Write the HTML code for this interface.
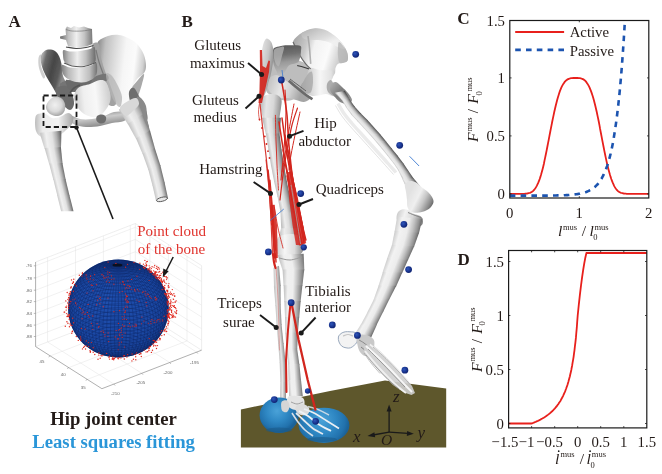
<!DOCTYPE html>
<html><head><meta charset="utf-8"><title>Figure</title>
<style>
html,body{margin:0;padding:0;background:#fff;}
body{width:662px;height:474px;overflow:hidden;font-family:"Liberation Serif",serif;}
svg{display:block;}
text{font-family:"Liberation Serif",serif;fill:#231b18;}
svg{will-change:transform;}
body{-webkit-font-smoothing:antialiased;}
.lb{font-size:15px;}
.tk{font-size:15.3px;}
.b{font-weight:bold;}
.i{font-style:italic;}
</style></head><body>
<svg width="662" height="474" viewBox="0 0 662 474">
<defs>
<filter id="bl1" x="-10%" y="-10%" width="120%" height="120%"><feGaussianBlur stdDeviation="0.7"/></filter>
<filter id="bl2" x="-10%" y="-10%" width="120%" height="120%"><feGaussianBlur stdDeviation="1.4"/></filter>
<filter id="bl3" x="-20%" y="-20%" width="140%" height="140%"><feGaussianBlur stdDeviation="2.5"/></filter>
<linearGradient id="shaftH" x1="0" y1="0" x2="1" y2="0">
<stop offset="0" stop-color="#9a9a9a"/><stop offset="0.25" stop-color="#e4e4e4"/><stop offset="0.6" stop-color="#f4f4f4"/><stop offset="1" stop-color="#8c8c8c"/>
</linearGradient>
<linearGradient id="shaftH2" x1="0" y1="0" x2="1" y2="0">
<stop offset="0" stop-color="#b8b8b8"/><stop offset="0.3" stop-color="#f2f2f2"/><stop offset="0.65" stop-color="#dcdcdc"/><stop offset="1" stop-color="#777"/>
</linearGradient>
<radialGradient id="sph" cx="0.42" cy="0.4" r="0.65">
<stop offset="0" stop-color="#1f50b0"/><stop offset="0.7" stop-color="#1b48a4"/><stop offset="1" stop-color="#163c8c"/>
</radialGradient>
<radialGradient id="mk" cx="0.4" cy="0.35" r="0.7">
<stop offset="0" stop-color="#2a4fb5"/><stop offset="1" stop-color="#14287a"/>
</radialGradient>
<radialGradient id="foot" cx="0.45" cy="0.4" r="0.7">
<stop offset="0" stop-color="#3a9bd6"/><stop offset="0.6" stop-color="#1f7fc0"/><stop offset="1" stop-color="#14649f"/>
</radialGradient>
<linearGradient id="iliumR" x1="0" y1="0" x2="1" y2="0.3">
<stop offset="0" stop-color="#b5b5b5"/><stop offset="0.35" stop-color="#ececec"/><stop offset="0.7" stop-color="#f6f6f6"/><stop offset="1" stop-color="#bdbdbd"/>
</linearGradient>
<linearGradient id="iliumL" x1="0" y1="0" x2="1" y2="0.2">
<stop offset="0" stop-color="#8a8a8a"/><stop offset="0.5" stop-color="#5e5e5e"/><stop offset="1" stop-color="#7c7c7c"/>
</linearGradient>
<linearGradient id="vert" x1="0" y1="0" x2="1" y2="0">
<stop offset="0" stop-color="#a0a0a0"/><stop offset="0.35" stop-color="#eaeaea"/><stop offset="0.7" stop-color="#d4d4d4"/><stop offset="1" stop-color="#8e8e8e"/>
</linearGradient>
<clipPath id="sphclip"><ellipse cx="118.4" cy="308.5" rx="50.3" ry="49"/></clipPath>
<linearGradient id="g1" gradientUnits="userSpaceOnUse" x1="96.0" y1="60.0" x2="147.0" y2="66.0"><stop offset="0" stop-color="#8c8c8c"/><stop offset="0.15" stop-color="#c0c0c0"/><stop offset="0.35" stop-color="#dcdcdc"/><stop offset="0.55" stop-color="#f6f6f6"/><stop offset="0.75" stop-color="#fbfbfb"/><stop offset="0.92" stop-color="#d0d0d0"/><stop offset="1" stop-color="#9c9c9c"/></linearGradient><linearGradient id="g2" gradientUnits="userSpaceOnUse" x1="40.0" y1="66.0" x2="64.0" y2="72.0"><stop offset="0" stop-color="#a8a8a8"/><stop offset="0.15" stop-color="#6a6a6a"/><stop offset="0.5" stop-color="#464646"/><stop offset="0.8" stop-color="#5a5a5a"/><stop offset="1" stop-color="#8a8a8a"/></linearGradient><linearGradient id="g3" gradientUnits="userSpaceOnUse" x1="62.0" y1="38.0" x2="94.0" y2="38.0"><stop offset="0" stop-color="#7c7c7c"/><stop offset="0.2" stop-color="#c2c2c2"/><stop offset="0.45" stop-color="#f0f0f0"/><stop offset="0.7" stop-color="#c4c4c4"/><stop offset="1" stop-color="#6a6a6a"/></linearGradient><linearGradient id="g4" gradientUnits="userSpaceOnUse" x1="62.0" y1="56.0" x2="96.0" y2="56.0"><stop offset="0" stop-color="#7a7a7a"/><stop offset="0.2" stop-color="#bcbcbc"/><stop offset="0.45" stop-color="#eeeeee"/><stop offset="0.7" stop-color="#c0c0c0"/><stop offset="1" stop-color="#686868"/></linearGradient><linearGradient id="g5" gradientUnits="userSpaceOnUse" x1="61.0" y1="72.0" x2="97.0" y2="72.0"><stop offset="0" stop-color="#7a7a7a"/><stop offset="0.2" stop-color="#b8b8b8"/><stop offset="0.5" stop-color="#e8e8e8"/><stop offset="0.8" stop-color="#bdbdbd"/><stop offset="1" stop-color="#747474"/></linearGradient><linearGradient id="g6" gradientUnits="userSpaceOnUse" x1="72.0" y1="100.0" x2="112.0" y2="96.0"><stop offset="0" stop-color="#c2c2c2"/><stop offset="0.3" stop-color="#efefef"/><stop offset="0.6" stop-color="#f8f8f8"/><stop offset="1" stop-color="#c8c8c8"/></linearGradient><linearGradient id="g7" gradientUnits="userSpaceOnUse" x1="90.0" y1="112.0" x2="92.0" y2="128.0"><stop offset="0" stop-color="#8c8c8c"/><stop offset="0.4" stop-color="#cbcbcb"/><stop offset="1" stop-color="#858585"/></linearGradient><radialGradient id="g8" gradientUnits="userSpaceOnUse" cx="55" cy="105" r="11"><stop offset="0" stop-color="#f0f0f0"/><stop offset="0.6" stop-color="#dadada"/><stop offset="1" stop-color="#a8a8a8"/></radialGradient><linearGradient id="g9" gradientUnits="userSpaceOnUse" x1="35.0" y1="124.0" x2="74.0" y2="124.0"><stop offset="0" stop-color="#bdbdbd"/><stop offset="0.2" stop-color="#ececec"/><stop offset="0.6" stop-color="#f2f2f2"/><stop offset="1" stop-color="#a0a0a0"/></linearGradient><linearGradient id="g10" gradientUnits="userSpaceOnUse" x1="42.0" y1="140.7" x2="61.1" y2="137.9"><stop offset="0" stop-color="#cacaca"/><stop offset="0.25" stop-color="#f0f0f0"/><stop offset="0.55" stop-color="#e2e2e2"/><stop offset="0.78" stop-color="#b0b0b0"/><stop offset="1" stop-color="#6e6e6e"/></linearGradient><linearGradient id="g11" gradientUnits="userSpaceOnUse" x1="46.9" y1="156.1" x2="61.4" y2="153.3"><stop offset="0" stop-color="#cacaca"/><stop offset="0.25" stop-color="#f0f0f0"/><stop offset="0.55" stop-color="#e2e2e2"/><stop offset="0.78" stop-color="#b0b0b0"/><stop offset="1" stop-color="#6e6e6e"/></linearGradient><linearGradient id="g12" gradientUnits="userSpaceOnUse" x1="51.3" y1="171.7" x2="63.5" y2="168.9"><stop offset="0" stop-color="#cacaca"/><stop offset="0.25" stop-color="#f0f0f0"/><stop offset="0.55" stop-color="#e2e2e2"/><stop offset="0.78" stop-color="#b0b0b0"/><stop offset="1" stop-color="#6e6e6e"/></linearGradient><linearGradient id="g13" gradientUnits="userSpaceOnUse" x1="55.3" y1="187.4" x2="66.8" y2="184.6"><stop offset="0" stop-color="#cacaca"/><stop offset="0.25" stop-color="#f0f0f0"/><stop offset="0.55" stop-color="#e2e2e2"/><stop offset="0.78" stop-color="#b0b0b0"/><stop offset="1" stop-color="#6e6e6e"/></linearGradient><linearGradient id="g14" gradientUnits="userSpaceOnUse" x1="59.1" y1="203.1" x2="70.7" y2="200.3"><stop offset="0" stop-color="#cacaca"/><stop offset="0.25" stop-color="#f0f0f0"/><stop offset="0.55" stop-color="#e2e2e2"/><stop offset="0.78" stop-color="#b0b0b0"/><stop offset="1" stop-color="#6e6e6e"/></linearGradient><linearGradient id="g15" gradientUnits="userSpaceOnUse" x1="123.4" y1="117.1" x2="142.5" y2="107.4"><stop offset="0" stop-color="#c6c6c6"/><stop offset="0.3" stop-color="#efefef"/><stop offset="0.58" stop-color="#e0e0e0"/><stop offset="0.8" stop-color="#adadad"/><stop offset="1" stop-color="#707070"/></linearGradient><linearGradient id="g16" gradientUnits="userSpaceOnUse" x1="131.9" y1="131.4" x2="148.4" y2="124.4"><stop offset="0" stop-color="#c6c6c6"/><stop offset="0.3" stop-color="#efefef"/><stop offset="0.58" stop-color="#e0e0e0"/><stop offset="0.8" stop-color="#adadad"/><stop offset="1" stop-color="#707070"/></linearGradient><linearGradient id="g17" gradientUnits="userSpaceOnUse" x1="139.3" y1="146.3" x2="153.2" y2="141.5"><stop offset="0" stop-color="#c6c6c6"/><stop offset="0.3" stop-color="#efefef"/><stop offset="0.58" stop-color="#e0e0e0"/><stop offset="0.8" stop-color="#adadad"/><stop offset="1" stop-color="#707070"/></linearGradient><linearGradient id="g18" gradientUnits="userSpaceOnUse" x1="145.5" y1="161.8" x2="157.9" y2="157.6"><stop offset="0" stop-color="#c6c6c6"/><stop offset="0.3" stop-color="#efefef"/><stop offset="0.58" stop-color="#e0e0e0"/><stop offset="0.8" stop-color="#adadad"/><stop offset="1" stop-color="#707070"/></linearGradient><linearGradient id="g19" gradientUnits="userSpaceOnUse" x1="150.4" y1="177.7" x2="162.7" y2="174.6"><stop offset="0" stop-color="#c6c6c6"/><stop offset="0.3" stop-color="#efefef"/><stop offset="0.58" stop-color="#e0e0e0"/><stop offset="0.8" stop-color="#adadad"/><stop offset="1" stop-color="#707070"/></linearGradient><linearGradient id="g20" gradientUnits="userSpaceOnUse" x1="154.3" y1="193.4" x2="166.4" y2="190.7"><stop offset="0" stop-color="#c6c6c6"/><stop offset="0.3" stop-color="#efefef"/><stop offset="0.58" stop-color="#e0e0e0"/><stop offset="0.8" stop-color="#adadad"/><stop offset="1" stop-color="#707070"/></linearGradient><linearGradient id="g21" gradientUnits="userSpaceOnUse" x1="293.0" y1="45.0" x2="348.0" y2="62.0"><stop offset="0" stop-color="#a8a8a8"/><stop offset="0.22" stop-color="#c9c9c9"/><stop offset="0.36" stop-color="#f2f2f2"/><stop offset="0.62" stop-color="#fbfbfb"/><stop offset="0.8" stop-color="#d6d6d6"/><stop offset="1" stop-color="#adadad"/></linearGradient><linearGradient id="g22" gradientUnits="userSpaceOnUse" x1="300.0" y1="84.0" x2="340.0" y2="84.0"><stop offset="0" stop-color="#9a9a9a"/><stop offset="0.25" stop-color="#d4d4d4"/><stop offset="0.5" stop-color="#f6f6f6"/><stop offset="0.78" stop-color="#e2e2e2"/><stop offset="1" stop-color="#a8a8a8"/></linearGradient><linearGradient id="g23" gradientUnits="userSpaceOnUse" x1="315.0" y1="28.0" x2="322.0" y2="46.0"><stop offset="0" stop-color="#bcbcbc"/><stop offset="0.6" stop-color="#d8d8d8"/><stop offset="1" stop-color="#f0f0f0"/></linearGradient><linearGradient id="g24" gradientUnits="userSpaceOnUse" x1="330.0" y1="84.0" x2="350.0" y2="100.0"><stop offset="0" stop-color="#b0b0b0"/><stop offset="0.5" stop-color="#7c7c7c"/><stop offset="1" stop-color="#8e8e8e"/></linearGradient><linearGradient id="g25" gradientUnits="userSpaceOnUse" x1="261.0" y1="58.0" x2="274.0" y2="60.0"><stop offset="0" stop-color="#dedede"/><stop offset="0.5" stop-color="#c6c6c6"/><stop offset="1" stop-color="#8e8e8e"/></linearGradient><linearGradient id="g26" gradientUnits="userSpaceOnUse" x1="280.0" y1="46.0" x2="284.0" y2="76.0"><stop offset="0" stop-color="#5a5a5a"/><stop offset="0.3" stop-color="#707070"/><stop offset="0.55" stop-color="#9a9a9a"/><stop offset="1" stop-color="#c2c2c2"/></linearGradient><linearGradient id="g27" gradientUnits="userSpaceOnUse" x1="268.0" y1="84.0" x2="300.0" y2="96.0"><stop offset="0" stop-color="#c4c4c4"/><stop offset="0.4" stop-color="#e6e6e6"/><stop offset="0.7" stop-color="#cfcfcf"/><stop offset="1" stop-color="#a5a5a5"/></linearGradient><linearGradient id="g28" gradientUnits="userSpaceOnUse" x1="259.0" y1="110.0" x2="282.0" y2="112.0"><stop offset="0" stop-color="#b4b4b4"/><stop offset="0.3" stop-color="#e6e6e6"/><stop offset="0.6" stop-color="#d8d8d8"/><stop offset="1" stop-color="#868686"/></linearGradient><linearGradient id="g29" gradientUnits="userSpaceOnUse" x1="263.9" y1="125.8" x2="280.2" y2="124.6"><stop offset="0" stop-color="#c0c0c0"/><stop offset="0.25" stop-color="#ededed"/><stop offset="0.5" stop-color="#dcdcdc"/><stop offset="0.75" stop-color="#a8a8a8"/><stop offset="1" stop-color="#6a6a6a"/></linearGradient><linearGradient id="g30" gradientUnits="userSpaceOnUse" x1="267.1" y1="141.5" x2="280.2" y2="139.6"><stop offset="0" stop-color="#c0c0c0"/><stop offset="0.25" stop-color="#ededed"/><stop offset="0.5" stop-color="#dcdcdc"/><stop offset="0.75" stop-color="#a8a8a8"/><stop offset="1" stop-color="#6a6a6a"/></linearGradient><linearGradient id="g31" gradientUnits="userSpaceOnUse" x1="269.7" y1="157.4" x2="282.4" y2="155.4"><stop offset="0" stop-color="#c0c0c0"/><stop offset="0.25" stop-color="#ededed"/><stop offset="0.5" stop-color="#dcdcdc"/><stop offset="0.75" stop-color="#a8a8a8"/><stop offset="1" stop-color="#6a6a6a"/></linearGradient><linearGradient id="g32" gradientUnits="userSpaceOnUse" x1="272.5" y1="173.2" x2="284.9" y2="170.9"><stop offset="0" stop-color="#c0c0c0"/><stop offset="0.25" stop-color="#ededed"/><stop offset="0.5" stop-color="#dcdcdc"/><stop offset="0.75" stop-color="#a8a8a8"/><stop offset="1" stop-color="#6a6a6a"/></linearGradient><linearGradient id="g33" gradientUnits="userSpaceOnUse" x1="275.8" y1="188.9" x2="287.9" y2="186.2"><stop offset="0" stop-color="#c0c0c0"/><stop offset="0.25" stop-color="#ededed"/><stop offset="0.5" stop-color="#dcdcdc"/><stop offset="0.75" stop-color="#a8a8a8"/><stop offset="1" stop-color="#6a6a6a"/></linearGradient><linearGradient id="g34" gradientUnits="userSpaceOnUse" x1="279.1" y1="204.6" x2="291.5" y2="201.8"><stop offset="0" stop-color="#c0c0c0"/><stop offset="0.25" stop-color="#ededed"/><stop offset="0.5" stop-color="#dcdcdc"/><stop offset="0.75" stop-color="#a8a8a8"/><stop offset="1" stop-color="#6a6a6a"/></linearGradient><linearGradient id="g35" gradientUnits="userSpaceOnUse" x1="280.8" y1="220.5" x2="295.8" y2="218.4"><stop offset="0" stop-color="#c0c0c0"/><stop offset="0.25" stop-color="#ededed"/><stop offset="0.5" stop-color="#dcdcdc"/><stop offset="0.75" stop-color="#a8a8a8"/><stop offset="1" stop-color="#6a6a6a"/></linearGradient><linearGradient id="g36" gradientUnits="userSpaceOnUse" x1="279.1" y1="236.3" x2="300.3" y2="236.1"><stop offset="0" stop-color="#c0c0c0"/><stop offset="0.25" stop-color="#ededed"/><stop offset="0.5" stop-color="#dcdcdc"/><stop offset="0.75" stop-color="#a8a8a8"/><stop offset="1" stop-color="#6a6a6a"/></linearGradient><linearGradient id="g37" gradientUnits="userSpaceOnUse" x1="275.0" y1="248.0" x2="303.0" y2="248.0"><stop offset="0" stop-color="#c8c8c8"/><stop offset="0.35" stop-color="#f6f6f6"/><stop offset="0.7" stop-color="#dcdcdc"/><stop offset="1" stop-color="#8c8c8c"/></linearGradient><linearGradient id="g38" gradientUnits="userSpaceOnUse" x1="280.0" y1="262.5" x2="303.4" y2="258.3"><stop offset="0" stop-color="#c6c6c6"/><stop offset="0.2" stop-color="#f0f0f0"/><stop offset="0.5" stop-color="#efefef"/><stop offset="0.7" stop-color="#c4c4c4"/><stop offset="0.88" stop-color="#9a9a9a"/><stop offset="1" stop-color="#7a7a7a"/></linearGradient><linearGradient id="g39" gradientUnits="userSpaceOnUse" x1="283.0" y1="277.8" x2="303.3" y2="278.3"><stop offset="0" stop-color="#c6c6c6"/><stop offset="0.2" stop-color="#f0f0f0"/><stop offset="0.5" stop-color="#efefef"/><stop offset="0.7" stop-color="#c4c4c4"/><stop offset="0.88" stop-color="#9a9a9a"/><stop offset="1" stop-color="#7a7a7a"/></linearGradient><linearGradient id="g40" gradientUnits="userSpaceOnUse" x1="284.0" y1="293.6" x2="301.5" y2="294.2"><stop offset="0" stop-color="#c6c6c6"/><stop offset="0.2" stop-color="#f0f0f0"/><stop offset="0.5" stop-color="#efefef"/><stop offset="0.7" stop-color="#c4c4c4"/><stop offset="0.88" stop-color="#9a9a9a"/><stop offset="1" stop-color="#7a7a7a"/></linearGradient><linearGradient id="g41" gradientUnits="userSpaceOnUse" x1="284.7" y1="309.3" x2="299.9" y2="309.7"><stop offset="0" stop-color="#c6c6c6"/><stop offset="0.2" stop-color="#f0f0f0"/><stop offset="0.5" stop-color="#efefef"/><stop offset="0.7" stop-color="#c4c4c4"/><stop offset="0.88" stop-color="#9a9a9a"/><stop offset="1" stop-color="#7a7a7a"/></linearGradient><linearGradient id="g42" gradientUnits="userSpaceOnUse" x1="285.1" y1="325.1" x2="298.5" y2="325.6"><stop offset="0" stop-color="#c6c6c6"/><stop offset="0.2" stop-color="#f0f0f0"/><stop offset="0.5" stop-color="#efefef"/><stop offset="0.7" stop-color="#c4c4c4"/><stop offset="0.88" stop-color="#9a9a9a"/><stop offset="1" stop-color="#7a7a7a"/></linearGradient><linearGradient id="g43" gradientUnits="userSpaceOnUse" x1="285.8" y1="340.9" x2="297.5" y2="340.7"><stop offset="0" stop-color="#c6c6c6"/><stop offset="0.2" stop-color="#f0f0f0"/><stop offset="0.5" stop-color="#efefef"/><stop offset="0.7" stop-color="#c4c4c4"/><stop offset="0.88" stop-color="#9a9a9a"/><stop offset="1" stop-color="#7a7a7a"/></linearGradient><linearGradient id="g44" gradientUnits="userSpaceOnUse" x1="287.3" y1="356.6" x2="298.1" y2="355.2"><stop offset="0" stop-color="#c6c6c6"/><stop offset="0.2" stop-color="#f0f0f0"/><stop offset="0.5" stop-color="#efefef"/><stop offset="0.7" stop-color="#c4c4c4"/><stop offset="0.88" stop-color="#9a9a9a"/><stop offset="1" stop-color="#7a7a7a"/></linearGradient><linearGradient id="g45" gradientUnits="userSpaceOnUse" x1="288.4" y1="372.3" x2="300.2" y2="371.6"><stop offset="0" stop-color="#c6c6c6"/><stop offset="0.2" stop-color="#f0f0f0"/><stop offset="0.5" stop-color="#efefef"/><stop offset="0.7" stop-color="#c4c4c4"/><stop offset="0.88" stop-color="#9a9a9a"/><stop offset="1" stop-color="#7a7a7a"/></linearGradient><linearGradient id="g46" gradientUnits="userSpaceOnUse" x1="288.8" y1="388.1" x2="301.8" y2="387.1"><stop offset="0" stop-color="#c6c6c6"/><stop offset="0.2" stop-color="#f0f0f0"/><stop offset="0.5" stop-color="#efefef"/><stop offset="0.7" stop-color="#c4c4c4"/><stop offset="0.88" stop-color="#9a9a9a"/><stop offset="1" stop-color="#7a7a7a"/></linearGradient><linearGradient id="g47" gradientUnits="userSpaceOnUse" x1="273.7" y1="277.4" x2="279.9" y2="277.1"><stop offset="0" stop-color="#c4c4c4"/><stop offset="0.4" stop-color="#e6e6e6"/><stop offset="1" stop-color="#8e8e8e"/></linearGradient><linearGradient id="g48" gradientUnits="userSpaceOnUse" x1="274.7" y1="296.3" x2="280.7" y2="296.1"><stop offset="0" stop-color="#c4c4c4"/><stop offset="0.4" stop-color="#e6e6e6"/><stop offset="1" stop-color="#8e8e8e"/></linearGradient><linearGradient id="g49" gradientUnits="userSpaceOnUse" x1="276.0" y1="315.1" x2="281.1" y2="314.9"><stop offset="0" stop-color="#c4c4c4"/><stop offset="0.4" stop-color="#e6e6e6"/><stop offset="1" stop-color="#8e8e8e"/></linearGradient><linearGradient id="g50" gradientUnits="userSpaceOnUse" x1="277.4" y1="334.0" x2="282.5" y2="333.5"><stop offset="0" stop-color="#c4c4c4"/><stop offset="0.4" stop-color="#e6e6e6"/><stop offset="1" stop-color="#8e8e8e"/></linearGradient><linearGradient id="g51" gradientUnits="userSpaceOnUse" x1="278.9" y1="352.8" x2="284.5" y2="352.3"><stop offset="0" stop-color="#c4c4c4"/><stop offset="0.4" stop-color="#e6e6e6"/><stop offset="1" stop-color="#8e8e8e"/></linearGradient><linearGradient id="g52" gradientUnits="userSpaceOnUse" x1="280.0" y1="371.7" x2="285.8" y2="371.5"><stop offset="0" stop-color="#c4c4c4"/><stop offset="0.4" stop-color="#e6e6e6"/><stop offset="1" stop-color="#8e8e8e"/></linearGradient><linearGradient id="g53" gradientUnits="userSpaceOnUse" x1="280.2" y1="390.6" x2="286.0" y2="390.6"><stop offset="0" stop-color="#c4c4c4"/><stop offset="0.4" stop-color="#e6e6e6"/><stop offset="1" stop-color="#8e8e8e"/></linearGradient><radialGradient id="g54" gradientUnits="userSpaceOnUse" cx="277" cy="411" r="21"><stop offset="0" stop-color="#4aa2d8"/><stop offset="0.5" stop-color="#2f88c4"/><stop offset="0.85" stop-color="#2272ad"/><stop offset="1" stop-color="#1b6298"/></radialGradient><radialGradient id="g55" gradientUnits="userSpaceOnUse" cx="322" cy="420" r="27"><stop offset="0" stop-color="#4aa2d8"/><stop offset="0.5" stop-color="#2f88c4"/><stop offset="0.85" stop-color="#2272ad"/><stop offset="1" stop-color="#1b6298"/></radialGradient><linearGradient id="g56" gradientUnits="userSpaceOnUse" x1="338.2" y1="96.2" x2="344.5" y2="91.5"><stop offset="0" stop-color="#c8c8c8"/><stop offset="0.15" stop-color="#ececec"/><stop offset="0.4" stop-color="#e2e2e2"/><stop offset="0.65" stop-color="#b8b8b8"/><stop offset="0.85" stop-color="#7e7e7e"/><stop offset="1" stop-color="#4e4e4e"/></linearGradient><linearGradient id="g57" gradientUnits="userSpaceOnUse" x1="343.8" y1="103.3" x2="349.9" y2="99.4"><stop offset="0" stop-color="#c8c8c8"/><stop offset="0.15" stop-color="#ececec"/><stop offset="0.4" stop-color="#e2e2e2"/><stop offset="0.65" stop-color="#b8b8b8"/><stop offset="0.85" stop-color="#7e7e7e"/><stop offset="1" stop-color="#4e4e4e"/></linearGradient><linearGradient id="g58" gradientUnits="userSpaceOnUse" x1="348.7" y1="110.9" x2="354.6" y2="106.1"><stop offset="0" stop-color="#c8c8c8"/><stop offset="0.15" stop-color="#ececec"/><stop offset="0.4" stop-color="#e2e2e2"/><stop offset="0.65" stop-color="#b8b8b8"/><stop offset="0.85" stop-color="#7e7e7e"/><stop offset="1" stop-color="#4e4e4e"/></linearGradient><linearGradient id="g59" gradientUnits="userSpaceOnUse" x1="354.5" y1="118.0" x2="360.1" y2="112.5"><stop offset="0" stop-color="#c8c8c8"/><stop offset="0.15" stop-color="#ececec"/><stop offset="0.4" stop-color="#e2e2e2"/><stop offset="0.65" stop-color="#b8b8b8"/><stop offset="0.85" stop-color="#7e7e7e"/><stop offset="1" stop-color="#4e4e4e"/></linearGradient><linearGradient id="g60" gradientUnits="userSpaceOnUse" x1="360.6" y1="124.7" x2="366.7" y2="119.2"><stop offset="0" stop-color="#c8c8c8"/><stop offset="0.15" stop-color="#ececec"/><stop offset="0.4" stop-color="#e2e2e2"/><stop offset="0.65" stop-color="#b8b8b8"/><stop offset="0.85" stop-color="#7e7e7e"/><stop offset="1" stop-color="#4e4e4e"/></linearGradient><linearGradient id="g61" gradientUnits="userSpaceOnUse" x1="366.8" y1="131.5" x2="372.8" y2="126.0"><stop offset="0" stop-color="#c8c8c8"/><stop offset="0.15" stop-color="#ececec"/><stop offset="0.4" stop-color="#e2e2e2"/><stop offset="0.65" stop-color="#b8b8b8"/><stop offset="0.85" stop-color="#7e7e7e"/><stop offset="1" stop-color="#4e4e4e"/></linearGradient><linearGradient id="g62" gradientUnits="userSpaceOnUse" x1="372.9" y1="138.2" x2="379.1" y2="133.0"><stop offset="0" stop-color="#c8c8c8"/><stop offset="0.15" stop-color="#ececec"/><stop offset="0.4" stop-color="#e2e2e2"/><stop offset="0.65" stop-color="#b8b8b8"/><stop offset="0.85" stop-color="#7e7e7e"/><stop offset="1" stop-color="#4e4e4e"/></linearGradient><linearGradient id="g63" gradientUnits="userSpaceOnUse" x1="378.9" y1="145.1" x2="385.0" y2="140.1"><stop offset="0" stop-color="#c8c8c8"/><stop offset="0.15" stop-color="#ececec"/><stop offset="0.4" stop-color="#e2e2e2"/><stop offset="0.65" stop-color="#b8b8b8"/><stop offset="0.85" stop-color="#7e7e7e"/><stop offset="1" stop-color="#4e4e4e"/></linearGradient><linearGradient id="g64" gradientUnits="userSpaceOnUse" x1="384.7" y1="152.2" x2="390.8" y2="147.3"><stop offset="0" stop-color="#c8c8c8"/><stop offset="0.15" stop-color="#ececec"/><stop offset="0.4" stop-color="#e2e2e2"/><stop offset="0.65" stop-color="#b8b8b8"/><stop offset="0.85" stop-color="#7e7e7e"/><stop offset="1" stop-color="#4e4e4e"/></linearGradient><linearGradient id="g65" gradientUnits="userSpaceOnUse" x1="390.3" y1="159.3" x2="396.6" y2="154.5"><stop offset="0" stop-color="#c8c8c8"/><stop offset="0.15" stop-color="#ececec"/><stop offset="0.4" stop-color="#e2e2e2"/><stop offset="0.65" stop-color="#b8b8b8"/><stop offset="0.85" stop-color="#7e7e7e"/><stop offset="1" stop-color="#4e4e4e"/></linearGradient><linearGradient id="g66" gradientUnits="userSpaceOnUse" x1="395.8" y1="166.7" x2="402.5" y2="162.1"><stop offset="0" stop-color="#c8c8c8"/><stop offset="0.15" stop-color="#ececec"/><stop offset="0.4" stop-color="#e2e2e2"/><stop offset="0.65" stop-color="#b8b8b8"/><stop offset="0.85" stop-color="#7e7e7e"/><stop offset="1" stop-color="#4e4e4e"/></linearGradient><linearGradient id="g67" gradientUnits="userSpaceOnUse" x1="400.3" y1="174.6" x2="408.4" y2="169.9"><stop offset="0" stop-color="#c8c8c8"/><stop offset="0.15" stop-color="#ececec"/><stop offset="0.4" stop-color="#e2e2e2"/><stop offset="0.65" stop-color="#b8b8b8"/><stop offset="0.85" stop-color="#7e7e7e"/><stop offset="1" stop-color="#4e4e4e"/></linearGradient><linearGradient id="g68" gradientUnits="userSpaceOnUse" x1="404.1" y1="182.8" x2="413.5" y2="176.9"><stop offset="0" stop-color="#c8c8c8"/><stop offset="0.15" stop-color="#ececec"/><stop offset="0.4" stop-color="#e2e2e2"/><stop offset="0.65" stop-color="#b8b8b8"/><stop offset="0.85" stop-color="#7e7e7e"/><stop offset="1" stop-color="#4e4e4e"/></linearGradient><linearGradient id="g69" gradientUnits="userSpaceOnUse" x1="408.0" y1="196.0" x2="432.0" y2="208.0"><stop offset="0" stop-color="#e2e2e2"/><stop offset="0.35" stop-color="#efefef"/><stop offset="0.6" stop-color="#c6c6c6"/><stop offset="0.85" stop-color="#8a8a8a"/><stop offset="1" stop-color="#606060"/></linearGradient><linearGradient id="g70" gradientUnits="userSpaceOnUse" x1="396.0" y1="214.0" x2="423.0" y2="222.0"><stop offset="0" stop-color="#c8c8c8"/><stop offset="0.3" stop-color="#f2f2f2"/><stop offset="0.6" stop-color="#d8d8d8"/><stop offset="1" stop-color="#7e7e7e"/></linearGradient><linearGradient id="g71" gradientUnits="userSpaceOnUse" x1="395.8" y1="224.0" x2="420.0" y2="229.0"><stop offset="0" stop-color="#d0d0d0"/><stop offset="0.2" stop-color="#f2f2f2"/><stop offset="0.5" stop-color="#ececec"/><stop offset="0.72" stop-color="#c0c0c0"/><stop offset="0.9" stop-color="#929292"/><stop offset="1" stop-color="#6e6e6e"/></linearGradient><linearGradient id="g72" gradientUnits="userSpaceOnUse" x1="393.3" y1="238.1" x2="415.3" y2="244.2"><stop offset="0" stop-color="#d0d0d0"/><stop offset="0.2" stop-color="#f2f2f2"/><stop offset="0.5" stop-color="#ececec"/><stop offset="0.72" stop-color="#c0c0c0"/><stop offset="0.9" stop-color="#929292"/><stop offset="1" stop-color="#6e6e6e"/></linearGradient><linearGradient id="g73" gradientUnits="userSpaceOnUse" x1="389.5" y1="251.9" x2="408.5" y2="259.6"><stop offset="0" stop-color="#d0d0d0"/><stop offset="0.2" stop-color="#f2f2f2"/><stop offset="0.5" stop-color="#ececec"/><stop offset="0.72" stop-color="#c0c0c0"/><stop offset="0.9" stop-color="#929292"/><stop offset="1" stop-color="#6e6e6e"/></linearGradient><linearGradient id="g74" gradientUnits="userSpaceOnUse" x1="384.8" y1="265.4" x2="402.9" y2="272.3"><stop offset="0" stop-color="#d0d0d0"/><stop offset="0.2" stop-color="#f2f2f2"/><stop offset="0.5" stop-color="#ececec"/><stop offset="0.72" stop-color="#c0c0c0"/><stop offset="0.9" stop-color="#929292"/><stop offset="1" stop-color="#6e6e6e"/></linearGradient><linearGradient id="g75" gradientUnits="userSpaceOnUse" x1="380.6" y1="279.1" x2="397.0" y2="285.3"><stop offset="0" stop-color="#d0d0d0"/><stop offset="0.2" stop-color="#f2f2f2"/><stop offset="0.5" stop-color="#ececec"/><stop offset="0.72" stop-color="#c0c0c0"/><stop offset="0.9" stop-color="#929292"/><stop offset="1" stop-color="#6e6e6e"/></linearGradient><linearGradient id="g76" gradientUnits="userSpaceOnUse" x1="376.1" y1="292.7" x2="390.1" y2="298.8"><stop offset="0" stop-color="#d0d0d0"/><stop offset="0.2" stop-color="#f2f2f2"/><stop offset="0.5" stop-color="#ececec"/><stop offset="0.72" stop-color="#c0c0c0"/><stop offset="0.9" stop-color="#929292"/><stop offset="1" stop-color="#6e6e6e"/></linearGradient><linearGradient id="g77" gradientUnits="userSpaceOnUse" x1="370.6" y1="305.9" x2="383.1" y2="312.1"><stop offset="0" stop-color="#d0d0d0"/><stop offset="0.2" stop-color="#f2f2f2"/><stop offset="0.5" stop-color="#ececec"/><stop offset="0.72" stop-color="#c0c0c0"/><stop offset="0.9" stop-color="#929292"/><stop offset="1" stop-color="#6e6e6e"/></linearGradient><linearGradient id="g78" gradientUnits="userSpaceOnUse" x1="364.0" y1="318.6" x2="376.5" y2="325.1"><stop offset="0" stop-color="#d0d0d0"/><stop offset="0.2" stop-color="#f2f2f2"/><stop offset="0.5" stop-color="#ececec"/><stop offset="0.72" stop-color="#c0c0c0"/><stop offset="0.9" stop-color="#929292"/><stop offset="1" stop-color="#6e6e6e"/></linearGradient><linearGradient id="g79" gradientUnits="userSpaceOnUse" x1="356.8" y1="331.0" x2="370.3" y2="338.1"><stop offset="0" stop-color="#d0d0d0"/><stop offset="0.2" stop-color="#f2f2f2"/><stop offset="0.5" stop-color="#ececec"/><stop offset="0.72" stop-color="#c0c0c0"/><stop offset="0.9" stop-color="#929292"/><stop offset="1" stop-color="#6e6e6e"/></linearGradient><radialGradient id="g80" gradientUnits="userSpaceOnUse" cx="280.5" cy="79.2" r="3.74"><stop offset="0" stop-color="#2f55b8"/><stop offset="0.6" stop-color="#1c3a98"/><stop offset="1" stop-color="#132878"/></radialGradient><radialGradient id="g81" gradientUnits="userSpaceOnUse" cx="354.9" cy="53.5" r="3.74"><stop offset="0" stop-color="#2f55b8"/><stop offset="0.6" stop-color="#1c3a98"/><stop offset="1" stop-color="#132878"/></radialGradient><radialGradient id="g82" gradientUnits="userSpaceOnUse" cx="398.9" cy="144.5" r="3.74"><stop offset="0" stop-color="#2f55b8"/><stop offset="0.6" stop-color="#1c3a98"/><stop offset="1" stop-color="#132878"/></radialGradient><radialGradient id="g83" gradientUnits="userSpaceOnUse" cx="299.9" cy="192.79999999999998" r="3.74"><stop offset="0" stop-color="#2f55b8"/><stop offset="0.6" stop-color="#1c3a98"/><stop offset="1" stop-color="#132878"/></radialGradient><radialGradient id="g84" gradientUnits="userSpaceOnUse" cx="267.59999999999997" cy="251.1" r="3.74"><stop offset="0" stop-color="#2f55b8"/><stop offset="0.6" stop-color="#1c3a98"/><stop offset="1" stop-color="#132878"/></radialGradient><radialGradient id="g85" gradientUnits="userSpaceOnUse" cx="403.09999999999997" cy="223.5" r="3.74"><stop offset="0" stop-color="#2f55b8"/><stop offset="0.6" stop-color="#1c3a98"/><stop offset="1" stop-color="#132878"/></radialGradient><radialGradient id="g86" gradientUnits="userSpaceOnUse" cx="407.8" cy="268.8" r="3.74"><stop offset="0" stop-color="#2f55b8"/><stop offset="0.6" stop-color="#1c3a98"/><stop offset="1" stop-color="#132878"/></radialGradient><radialGradient id="g87" gradientUnits="userSpaceOnUse" cx="290.4" cy="301.9" r="3.74"><stop offset="0" stop-color="#2f55b8"/><stop offset="0.6" stop-color="#1c3a98"/><stop offset="1" stop-color="#132878"/></radialGradient><radialGradient id="g88" gradientUnits="userSpaceOnUse" cx="331.5" cy="324.09999999999997" r="3.74"><stop offset="0" stop-color="#2f55b8"/><stop offset="0.6" stop-color="#1c3a98"/><stop offset="1" stop-color="#132878"/></radialGradient><radialGradient id="g89" gradientUnits="userSpaceOnUse" cx="356.59999999999997" cy="334.59999999999997" r="3.74"><stop offset="0" stop-color="#2f55b8"/><stop offset="0.6" stop-color="#1c3a98"/><stop offset="1" stop-color="#132878"/></radialGradient><radialGradient id="g90" gradientUnits="userSpaceOnUse" cx="404.09999999999997" cy="369.4" r="3.74"><stop offset="0" stop-color="#2f55b8"/><stop offset="0.6" stop-color="#1c3a98"/><stop offset="1" stop-color="#132878"/></radialGradient><radialGradient id="g91" gradientUnits="userSpaceOnUse" cx="273.5" cy="398.8" r="3.74"><stop offset="0" stop-color="#2f55b8"/><stop offset="0.6" stop-color="#1c3a98"/><stop offset="1" stop-color="#132878"/></radialGradient><radialGradient id="g92" gradientUnits="userSpaceOnUse" cx="314.8" cy="420.5" r="3.74"><stop offset="0" stop-color="#2f55b8"/><stop offset="0.6" stop-color="#1c3a98"/><stop offset="1" stop-color="#132878"/></radialGradient><radialGradient id="g93" gradientUnits="userSpaceOnUse" cx="303.0" cy="246.5" r="3.4100000000000006"><stop offset="0" stop-color="#2f55b8"/><stop offset="0.6" stop-color="#1c3a98"/><stop offset="1" stop-color="#132878"/></radialGradient><radialGradient id="g94" gradientUnits="userSpaceOnUse" cx="306.9" cy="390.2" r="3.08"><stop offset="0" stop-color="#2f55b8"/><stop offset="0.6" stop-color="#1c3a98"/><stop offset="1" stop-color="#132878"/></radialGradient>
</defs>
<rect width="662" height="474" fill="#ffffff"/>
<!-- PANEL A -->
<g id="panelA">
<text class="b" x="8.4" y="27" font-size="17">A</text>
<!-- bones -->
<g filter="url(#bl1)">
<path d="M98.5,41.0 C100.3,39.0 104.6,37.0 108.0,36.0 C111.4,35.0 115.3,34.5 119.0,35.0 C122.7,35.5 126.8,37.3 130.0,39.0 C133.2,40.7 135.7,42.3 138.0,45.0 C140.3,47.7 142.7,51.5 144.0,55.0 C145.3,58.5 146.0,63.0 146.0,66.0 C146.0,69.0 145.3,71.0 144.0,73.0 C142.7,75.0 139.7,76.2 138.0,78.0 C136.3,79.8 135.2,81.7 134.0,84.0 C132.8,86.3 131.2,89.3 131.0,92.0 C130.8,94.7 133.5,97.3 133.0,100.0 C132.5,102.7 130.5,107.3 128.0,108.0 C125.5,108.7 120.5,106.3 118.0,104.0 C115.5,101.7 114.7,97.7 113.0,94.0 C111.3,90.3 110.2,85.7 108.0,82.0 C105.8,78.3 101.9,75.7 100.0,72.0 C98.1,68.3 97.0,64.0 96.5,60.0 C96.0,56.0 96.7,51.2 97.0,48.0 C97.3,44.8 96.7,43.0 98.5,41.0Z" fill="url(#g1)" />
<path d="M131.0,90.0 C131.7,86.7 135.8,82.7 138.0,80.0 C140.2,77.3 143.3,73.3 144.0,74.0 C144.7,74.7 143.0,80.3 142.0,84.0 C141.0,87.7 139.3,93.3 138.0,96.0 C136.7,98.7 135.2,101.0 134.0,100.0 C132.8,99.0 130.3,93.3 131.0,90.0Z" fill="#a9a9a9" />
<path d="M41.0,56.0 C41.5,53.7 43.1,52.1 44.5,51.0 C45.9,49.9 47.8,49.5 49.5,49.5 C51.2,49.5 53.4,49.9 55.0,51.0 C56.6,52.1 57.9,53.8 59.0,56.0 C60.1,58.2 60.8,60.7 61.5,64.0 C62.2,67.3 62.1,72.7 63.0,76.0 C63.9,79.3 65.8,81.3 67.0,84.0 C68.2,86.7 70.2,89.7 70.0,92.0 C69.8,94.3 68.0,97.5 66.0,98.0 C64.0,98.5 60.3,97.0 58.0,95.0 C55.7,93.0 54.0,89.2 52.0,86.0 C50.0,82.8 47.8,79.5 46.0,76.0 C44.2,72.5 42.3,68.3 41.5,65.0 C40.7,61.7 40.5,58.3 41.0,56.0Z" fill="url(#g2)" />
<path d="M38.5,58.0 C38.8,55.8 40.6,53.7 41.0,55.0 C41.4,56.3 40.3,62.5 41.0,66.0 C41.7,69.5 44.7,74.0 45.0,76.0 C45.3,78.0 44.0,79.3 43.0,78.0 C42.0,76.7 39.8,71.3 39.0,68.0 C38.2,64.7 38.2,60.2 38.5,58.0Z" fill="#cfcfcf" />
<path d="M92.0,46.0 C92.8,41.7 97.5,42.0 99.0,44.0 C100.5,46.0 99.8,53.0 101.0,58.0 C102.2,63.0 104.2,68.7 106.0,74.0 C107.8,79.3 110.3,85.0 112.0,90.0 C113.7,95.0 116.7,101.7 116.0,104.0 C115.3,106.3 110.7,107.3 108.0,104.0 C105.3,100.7 102.3,89.7 100.0,84.0 C97.7,78.3 95.3,76.3 94.0,70.0 C92.7,63.7 91.2,50.3 92.0,46.0Z" fill="#a2a2a2" />
<path d="M96.0,50.0 C96.5,52.0 97.7,57.7 99.0,62.0 C100.3,66.3 103.2,73.7 104.0,76.0" fill="none" stroke="#7a7a7a" stroke-width="1.2" />
<path d="M60.0,84.0 C61.0,82.0 66.0,80.7 70.0,80.0 C74.0,79.3 79.7,80.7 84.0,80.0 C88.3,79.3 92.3,77.0 96.0,76.0 C99.7,75.0 104.0,73.3 106.0,74.0 C108.0,74.7 109.7,78.3 108.0,80.0 C106.3,81.7 100.0,82.7 96.0,84.0 C92.0,85.3 88.0,86.7 84.0,88.0 C80.0,89.3 75.3,91.3 72.0,92.0 C68.7,92.7 66.0,93.3 64.0,92.0 C62.0,90.7 59.0,86.0 60.0,84.0Z" fill="#747474" />
<path d="M56.0,88.0 C57.5,86.3 63.3,85.0 66.0,86.0 C68.7,87.0 70.7,91.0 72.0,94.0 C73.3,97.0 74.3,101.3 74.0,104.0 C73.7,106.7 72.0,110.0 70.0,110.0 C68.0,110.0 64.2,106.3 62.0,104.0 C59.8,101.7 58.0,98.7 57.0,96.0 C56.0,93.3 54.5,89.7 56.0,88.0Z" fill="#6c6c6c" />
<path d="M129.0,92.0 C129.5,89.3 132.2,87.0 134.0,88.0 C135.8,89.0 138.0,94.3 140.0,98.0 C142.0,101.7 144.8,106.3 146.0,110.0 C147.2,113.7 148.3,119.0 147.0,120.0 C145.7,121.0 140.7,118.7 138.0,116.0 C135.3,113.3 132.5,108.0 131.0,104.0 C129.5,100.0 128.5,94.7 129.0,92.0Z" fill="#6e6e6e" />
<path d="M65.5,29.0 L67.0,26.5 L71.0,28.0 L74.0,26.0 L79.0,27.5 L84.0,26.5 L88.0,28.0 L92.0,29.0 L92.5,44.0 L86.0,46.5 L76.0,47.5 L68.0,46.0 L66.0,40.0 L60.0,38.5 L60.0,36.5 L66.0,35.0Z" fill="url(#g3)" />
<path d="M66.0,29.5 C67.0,29.8 69.3,30.8 72.0,31.0 C74.7,31.2 78.7,31.2 82.0,31.0 C85.3,30.8 90.3,29.8 92.0,29.5" fill="none" stroke="#777" stroke-width="0.7" />
<path d="M63.5,50.0 C64.7,49.4 67.2,51.3 70.0,51.5 C72.8,51.7 76.7,51.4 80.0,51.0 C83.3,50.6 87.6,49.7 90.0,49.0 C92.4,48.3 93.6,46.0 94.5,47.0 C95.4,48.0 95.4,52.5 95.5,55.0 C95.6,57.5 96.2,60.3 95.0,62.0 C93.8,63.7 90.8,64.3 88.0,65.0 C85.2,65.7 81.3,66.1 78.0,66.0 C74.7,65.9 70.3,65.3 68.0,64.5 C65.7,63.7 64.8,62.6 64.0,61.0 C63.2,59.4 63.1,56.8 63.0,55.0 C62.9,53.2 62.3,50.6 63.5,50.0Z" fill="url(#g4)" />
<path d="M62.0,65.0 C63.2,63.9 66.7,67.1 70.0,67.5 C73.3,67.9 78.3,67.9 82.0,67.5 C85.7,67.1 89.6,65.8 92.0,65.0 C94.4,64.2 95.7,61.8 96.5,63.0 C97.3,64.2 97.4,69.5 97.0,72.0 C96.6,74.5 95.8,76.3 94.0,78.0 C92.2,79.7 89.0,81.3 86.0,82.0 C83.0,82.7 79.0,82.5 76.0,82.0 C73.0,81.5 70.2,80.3 68.0,79.0 C65.8,77.7 64.0,76.3 63.0,74.0 C62.0,71.7 60.8,66.1 62.0,65.0Z" fill="url(#g5)" />
<path d="M66.0,47.0 C67.7,47.2 72.7,48.4 76.0,48.5 C79.3,48.6 83.1,48.0 86.0,47.5 C88.9,47.0 92.2,45.8 93.5,45.5" fill="none" stroke="#4a4a4a" stroke-width="1.2" />
<path d="M64.0,63.0 C65.3,63.5 68.7,65.4 72.0,66.0 C75.3,66.6 80.0,67.1 84.0,66.5 C88.0,65.9 94.0,63.2 96.0,62.5" fill="none" stroke="#5a5a5a" stroke-width="1.1" />
<path d="M66.0,80.0 C67.0,79.0 71.0,81.5 74.0,82.0 C77.0,82.5 81.0,83.3 84.0,83.0 C87.0,82.7 91.7,79.2 92.0,80.0 C92.3,80.8 89.0,86.0 86.0,88.0 C83.0,90.0 77.0,92.0 74.0,92.0 C71.0,92.0 69.3,90.0 68.0,88.0 C66.7,86.0 65.0,81.0 66.0,80.0Z" fill="#6a6a6a" />
<path d="M78.0,88.0 C80.7,85.7 86.3,85.3 90.0,84.0 C93.7,82.7 97.3,80.3 100.0,80.0 C102.7,79.7 104.3,80.0 106.0,82.0 C107.7,84.0 109.3,88.7 110.0,92.0 C110.7,95.3 111.0,98.7 110.0,102.0 C109.0,105.3 106.3,109.5 104.0,112.0 C101.7,114.5 99.0,116.5 96.0,117.0 C93.0,117.5 89.0,116.5 86.0,115.0 C83.0,113.5 80.0,110.8 78.0,108.0 C76.0,105.2 74.0,101.3 74.0,98.0 C74.0,94.7 75.3,90.3 78.0,88.0Z" fill="url(#g6)" />
<path d="M70.0,93.0 C70.7,92.2 72.3,89.3 74.0,88.0 C75.7,86.7 79.0,85.5 80.0,85.0" fill="none" stroke="#555" stroke-width="1.6" />
<path d="M72.0,116.0 C73.7,115.7 76.7,118.5 80.0,119.0 C83.3,119.5 88.0,119.5 92.0,119.0 C96.0,118.5 100.3,117.2 104.0,116.0 C107.7,114.8 110.7,112.7 114.0,112.0 C117.3,111.3 121.7,111.3 124.0,112.0 C126.3,112.7 128.0,114.5 128.0,116.0 C128.0,117.5 126.7,119.8 124.0,121.0 C121.3,122.2 116.0,122.2 112.0,123.0 C108.0,123.8 104.3,125.3 100.0,126.0 C95.7,126.7 90.0,127.2 86.0,127.0 C82.0,126.8 78.7,126.0 76.0,125.0 C73.3,124.0 70.7,122.5 70.0,121.0 C69.3,119.5 70.3,116.3 72.0,116.0Z" fill="url(#g7)" />
<path d="M97.0,116.0 C97.9,115.0 100.5,114.3 102.0,114.5 C103.5,114.7 105.5,115.8 106.0,117.0 C106.5,118.2 106.0,120.9 105.0,122.0 C104.0,123.1 101.4,123.8 100.0,123.5 C98.6,123.2 97.0,121.8 96.5,120.5 C96.0,119.2 96.1,117.0 97.0,116.0Z" fill="#6e6e6e" />
<path d="M106.0,74.0 C106.5,71.8 110.0,74.0 112.0,76.0 C114.0,78.0 116.3,82.5 118.0,86.0 C119.7,89.5 121.7,93.5 122.0,97.0 C122.3,100.5 121.3,106.3 120.0,107.0 C118.7,107.7 115.8,104.0 114.0,101.0 C112.2,98.0 110.3,93.5 109.0,89.0 C107.7,84.5 105.5,76.2 106.0,74.0Z" fill="#b4b4b4" opacity="0.75"/>
<path d="M48.0,102.0 C49.3,100.2 51.8,97.7 54.0,97.0 C56.2,96.3 59.2,96.8 61.0,98.0 C62.8,99.2 64.5,101.7 65.0,104.0 C65.5,106.3 65.2,110.0 64.0,112.0 C62.8,114.0 60.3,115.7 58.0,116.0 C55.7,116.3 52.0,115.3 50.0,114.0 C48.0,112.7 46.3,110.0 46.0,108.0 C45.7,106.0 46.7,103.8 48.0,102.0Z" fill="url(#g8)" />
<path d="M35.5,117.0 C36.2,114.1 38.2,114.0 40.0,113.5 C41.8,113.0 44.0,113.2 46.0,114.0 C48.0,114.8 49.7,117.5 52.0,118.0 C54.3,118.5 57.3,117.8 60.0,117.0 C62.7,116.2 65.8,113.0 68.0,113.0 C70.2,113.0 72.3,115.2 73.0,117.0 C73.7,118.8 73.2,121.8 72.0,124.0 C70.8,126.2 67.8,128.3 66.0,130.0 C64.2,131.7 63.3,133.0 61.0,134.0 C58.7,135.0 55.2,135.5 52.0,136.0 C48.8,136.5 44.7,137.8 42.0,137.0 C39.3,136.2 37.1,134.3 36.0,131.0 C34.9,127.7 34.8,119.9 35.5,117.0Z" fill="url(#g9)" />
<path d="M39.5,132.7 L44.6,148.7 L61.0,147.6 L61.5,130.7Z" fill="url(#g10)" /><path d="M44.5,148.0 L49.2,164.2 L62.6,163.8 L60.9,146.9Z" fill="url(#g11)" /><path d="M49.1,163.6 L53.4,179.9 L65.7,179.8 L62.4,163.1Z" fill="url(#g12)" /><path d="M53.3,179.2 L57.3,195.6 L69.5,195.6 L65.5,179.1Z" fill="url(#g13)" /><path d="M57.1,194.9 L61.1,211.3 L73.5,211.3 L69.4,194.9Z" fill="url(#g14)" />
<path d="M118.8,109.7 L128.0,124.5 L145.0,114.0 L137.8,96.7Z" fill="url(#g15)" /><path d="M127.7,123.8 L136.1,139.0 L150.2,131.2 L144.7,113.3Z" fill="url(#g16)" /><path d="M135.9,138.3 L142.7,154.3 L155.0,148.6 L150.0,130.6Z" fill="url(#g17)" /><path d="M142.5,153.6 L148.4,170.0 L160.5,165.7 L154.8,147.9Z" fill="url(#g18)" /><path d="M148.2,169.3 L152.6,186.1 L164.8,183.2 L160.3,165.1Z" fill="url(#g19)" /><path d="M152.5,185.4 L156.1,201.3 L168.1,198.8 L164.6,182.5Z" fill="url(#g20)" />
<path d="M137.0,97.0 C137.3,96.0 139.5,96.5 141.0,98.0 C142.5,99.5 145.0,102.7 146.0,106.0 C147.0,109.3 146.5,114.3 147.0,118.0 C147.5,121.7 149.3,127.3 149.0,128.0 C148.7,128.7 146.2,124.7 145.0,122.0 C143.8,119.3 143.0,115.0 142.0,112.0 C141.0,109.0 139.8,106.5 139.0,104.0 C138.2,101.5 136.7,98.0 137.0,97.0Z" fill="#8a8a8a" />
<path d="M120.0,108.0 C120.3,105.5 125.3,102.7 128.0,101.0 C130.7,99.3 134.2,97.5 136.0,98.0 C137.8,98.5 139.3,102.0 139.0,104.0 C138.7,106.0 136.2,108.0 134.0,110.0 C131.8,112.0 128.3,116.3 126.0,116.0 C123.7,115.7 119.7,110.5 120.0,108.0Z" fill="#d8d8d8" />
</g>
<ellipse cx="162" cy="199.3" rx="5.6" ry="2" fill="#e8e8e8" stroke="#555" stroke-width="0.9" transform="rotate(-14 162 199.3)"/>
<!-- dashed box and line -->
<rect x="43.5" y="95.5" width="33" height="31.5" fill="none" stroke="#1a1a1a" stroke-width="1.8" stroke-dasharray="5.2 3"/>
<circle cx="76.5" cy="127.5" r="2.2" fill="#1a1a1a"/>
<line x1="76.5" y1="127.5" x2="113" y2="219" stroke="#1a1a1a" stroke-width="1.6"/>
<!-- 3D axes -->
<g fill="none" stroke-width="0.5">
<path d="M35.6,262.0 L135.3,223.5 L201.6,265.6 M135.3,223.5 L135.3,308.1 M35.6,346.6 L135.3,308.1 L201.6,350.2 L201.6,265.6" stroke="#dcdcdc"/>
<path d="M35.6,265.8 L135.3,227.3 L201.6,269.4 M35.6,277.9 L135.3,239.4 L201.6,281.5 M35.6,290.2 L135.3,251.7 L201.6,293.8 M35.6,301.6 L135.3,263.1 L201.6,305.2 M35.6,313.4 L135.3,274.9 L201.6,317.0 M35.6,325.1 L135.3,286.6 L201.6,328.7 M35.6,336.5 L135.3,298.0 L201.6,340.1 " stroke="#e2e2e2"/>
<path d="M87.3,379.4 L187.0,340.9 L187.0,256.3 M68.8,367.6 L168.4,329.1 L168.4,244.5 M50.2,355.9 L149.9,317.4 L149.9,232.8 M113.9,384.1 L47.6,342.0 L47.6,257.4 M141.8,373.3 L75.5,331.2 L75.5,246.6 M169.7,362.5 L103.4,320.4 L103.4,235.8 M196.6,352.1 L130.3,310.0 L130.3,225.4 " stroke="#e2e2e2"/>
<path d="M35.6,262.0 L35.6,346.6 L101.9,388.7 L201.6,350.2" stroke="#8e8e8e" stroke-width="0.7"/>
<path d="M35.6,265.8 l-1.8,0 M35.6,277.9 l-1.8,0 M35.6,290.2 l-1.8,0 M35.6,301.6 l-1.8,0 M35.6,313.4 l-1.8,0 M35.6,325.1 l-1.8,0 M35.6,336.5 l-1.8,0 M87.3,379.4 l-1.6,1 M68.8,367.6 l-1.6,1 M50.2,355.9 l-1.6,1 M113.9,384.1 l1.2,1.4 M141.8,373.3 l1.2,1.4 M169.7,362.5 l1.2,1.4 M196.6,352.1 l1.2,1.4 " stroke="#8e8e8e" stroke-width="0.6"/>
</g>
<g font-size="4.4">
<text x="32" y="267.4" text-anchor="end" style="font-family:'Liberation Sans',sans-serif;fill:#666">-76</text>
<text x="32" y="279.5" text-anchor="end" style="font-family:'Liberation Sans',sans-serif;fill:#666">-78</text>
<text x="32" y="291.8" text-anchor="end" style="font-family:'Liberation Sans',sans-serif;fill:#666">-80</text>
<text x="32" y="303.2" text-anchor="end" style="font-family:'Liberation Sans',sans-serif;fill:#666">-82</text>
<text x="32" y="315.0" text-anchor="end" style="font-family:'Liberation Sans',sans-serif;fill:#666">-84</text>
<text x="32" y="326.7" text-anchor="end" style="font-family:'Liberation Sans',sans-serif;fill:#666">-86</text>
<text x="32" y="338.1" text-anchor="end" style="font-family:'Liberation Sans',sans-serif;fill:#666">-88</text>
<text x="42" y="362.5" text-anchor="middle" style="font-family:'Liberation Sans',sans-serif;fill:#666">45</text>
<text x="63.2" y="376" text-anchor="middle" style="font-family:'Liberation Sans',sans-serif;fill:#666">40</text>
<text x="83.2" y="389.2" text-anchor="middle" style="font-family:'Liberation Sans',sans-serif;fill:#666">35</text>
<text x="115.2" y="394.8" text-anchor="middle" style="font-family:'Liberation Sans',sans-serif;fill:#666">-210</text>
<text x="140.8" y="384" text-anchor="middle" style="font-family:'Liberation Sans',sans-serif;fill:#666">-205</text>
<text x="168" y="374" text-anchor="middle" style="font-family:'Liberation Sans',sans-serif;fill:#666">-200</text>
<text x="194.5" y="363.6" text-anchor="middle" style="font-family:'Liberation Sans',sans-serif;fill:#666">-195</text>
</g>
<!-- sphere -->
<ellipse cx="118.4" cy="308.5" rx="50.3" ry="49" fill="url(#sph)"/>
<g clip-path="url(#sphclip)" stroke="#0b1f55" stroke-width="0.4" fill="none" opacity="0.8"><ellipse cx="118.4" cy="265.4" rx="3.9" ry="1.8"/><ellipse cx="118.4" cy="265.8" rx="7.9" ry="3.6"/><ellipse cx="118.4" cy="266.4" rx="11.7" ry="5.4"/><ellipse cx="118.4" cy="267.4" rx="15.5" ry="7.1"/><ellipse cx="118.4" cy="268.5" rx="19.2" ry="8.8"/><ellipse cx="118.4" cy="270.0" rx="22.8" ry="10.4"/><ellipse cx="118.4" cy="271.6" rx="26.3" ry="12.0"/><ellipse cx="118.4" cy="273.5" rx="29.6" ry="13.5"/><ellipse cx="118.4" cy="275.6" rx="32.7" ry="14.9"/><ellipse cx="118.4" cy="277.9" rx="35.6" ry="16.3"/><ellipse cx="118.4" cy="280.4" rx="38.2" ry="17.5"/><ellipse cx="118.4" cy="283.1" rx="40.7" ry="18.6"/><ellipse cx="118.4" cy="285.9" rx="42.9" ry="19.6"/><ellipse cx="118.4" cy="288.9" rx="44.8" ry="20.5"/><ellipse cx="118.4" cy="291.9" rx="46.5" ry="21.3"/><ellipse cx="118.4" cy="295.1" rx="47.8" ry="21.9"/><ellipse cx="118.4" cy="298.4" rx="48.9" ry="22.4"/><ellipse cx="118.4" cy="301.7" rx="49.7" ry="22.7"/><ellipse cx="118.4" cy="305.1" rx="50.1" ry="22.9"/><ellipse cx="118.4" cy="308.5" rx="50.3" ry="23.0"/><ellipse cx="118.4" cy="311.9" rx="50.1" ry="22.9"/><ellipse cx="118.4" cy="315.3" rx="49.7" ry="22.7"/><ellipse cx="118.4" cy="318.6" rx="48.9" ry="22.4"/><ellipse cx="118.4" cy="321.9" rx="47.8" ry="21.9"/><ellipse cx="118.4" cy="325.1" rx="46.5" ry="21.3"/><ellipse cx="118.4" cy="328.1" rx="44.8" ry="20.5"/><ellipse cx="118.4" cy="331.1" rx="42.9" ry="19.6"/><ellipse cx="118.4" cy="333.9" rx="40.7" ry="18.6"/><ellipse cx="118.4" cy="336.6" rx="38.2" ry="17.5"/><ellipse cx="118.4" cy="339.1" rx="35.6" ry="16.3"/><ellipse cx="118.4" cy="341.4" rx="32.7" ry="14.9"/><ellipse cx="118.4" cy="343.5" rx="29.6" ry="13.5"/><ellipse cx="118.4" cy="345.4" rx="26.3" ry="12.0"/><ellipse cx="118.4" cy="347.0" rx="22.8" ry="10.4"/><ellipse cx="118.4" cy="348.5" rx="19.2" ry="8.8"/><ellipse cx="118.4" cy="349.6" rx="15.5" ry="7.1"/><ellipse cx="118.4" cy="350.6" rx="11.7" ry="5.4"/><ellipse cx="118.4" cy="351.2" rx="7.9" ry="3.6"/><ellipse cx="118.4" cy="351.6" rx="3.9" ry="1.8"/><polyline points="118.4,265.2 121.7,265.3 125.0,265.6 128.2,266.1 131.4,266.7 134.6,267.5 137.6,268.5 140.6,269.7 143.6,271.0 146.3,272.5 149.0,274.2 151.6,276.0 154.0,277.9 156.2,280.0 158.3,282.2 160.2,284.5 162.0,286.9 163.5,289.4 164.9,291.9 166.0,294.6 167.0,297.3 167.7,300.1 168.3,302.9 168.6,305.7 168.7,308.5"/><polyline points="118.4,265.2 115.1,265.3 111.8,265.6 108.6,266.1 105.4,266.7 102.2,267.5 99.2,268.5 96.2,269.7 93.3,271.0 90.5,272.5 87.8,274.2 85.2,276.0 82.8,277.9 80.6,280.0 78.5,282.2 76.6,284.5 74.8,286.9 73.3,289.4 71.9,291.9 70.8,294.6 69.8,297.3 69.1,300.1 68.5,302.9 68.2,305.7 68.1,308.5"/><polyline points="118.4,265.2 121.7,265.4 124.9,265.8 128.2,266.4 131.4,267.2 134.5,268.1 137.6,269.2 140.6,270.5 143.5,271.9 146.3,273.5 148.9,275.3 151.5,277.2 153.9,279.2 156.1,281.3 158.2,283.6 160.1,286.0 161.8,288.4 163.4,291.0 164.7,293.6 165.9,296.3 166.8,299.0 167.6,301.8 168.1,304.6 168.4,307.5 168.5,310.3 168.4,313.1 168.1,315.9"/><polyline points="118.4,265.2 115.1,265.2 111.9,265.4 108.6,265.7 105.4,266.2 102.3,267.0 99.2,267.8 96.2,268.9 93.3,270.1 90.5,271.5 87.9,273.1 85.3,274.8 82.9,276.6 80.7,278.6 78.6,280.7 76.7,283.0 75.0,285.3 73.4,287.7 72.1,290.3 70.9,292.9 70.0,295.6 69.2,298.3 68.7,301.1"/><polyline points="118.4,265.2 121.6,265.6 124.9,266.1 128.1,266.8 131.3,267.6 134.4,268.7 137.4,269.9 140.4,271.3 143.2,272.8 146.0,274.5 148.6,276.4 151.2,278.3 153.5,280.5 155.8,282.7 157.8,285.0 159.7,287.5 161.4,290.0 163.0,292.6 164.3,295.3 165.4,298.0 166.4,300.8 167.1,303.6 167.7,306.4 168.0,309.3 168.1,312.1 168.0,314.9 167.7,317.7 167.1,320.5 166.4,323.2"/><polyline points="118.4,265.2 115.2,265.1 111.9,265.1 108.7,265.4 105.5,265.8 102.4,266.4 99.4,267.2 96.4,268.1 93.6,269.2 90.8,270.5 88.2,272.0 85.6,273.6 83.3,275.4 81.0,277.3 79.0,279.3 77.1,281.5 75.4,283.8 73.8,286.1 72.5,288.6 71.4,291.2 70.4,293.8"/><polyline points="118.4,265.2 121.6,265.7 124.8,266.3 127.9,267.1 131.1,268.1 134.1,269.3 137.1,270.6 140.0,272.1 142.9,273.7 145.6,275.5 148.2,277.4 150.6,279.5 153.0,281.7 155.2,284.0 157.2,286.4 159.1,288.9 160.8,291.5 162.3,294.2 163.6,296.9 164.7,299.7 165.6,302.5 166.4,305.3 166.9,308.2 167.2,311.0 167.3,313.9 167.2,316.7 166.9,319.5 166.4,322.2 165.6,324.9 164.7,327.5 163.6,330.0"/><polyline points="118.4,265.2 115.2,265.0 112.0,264.9 108.9,265.0 105.7,265.3 102.7,265.8 99.7,266.5 96.8,267.3 93.9,268.3 91.2,269.5 88.6,270.9 86.2,272.4 83.8,274.1 81.6,275.9 79.6,277.9 77.7,280.0 76.0,282.2 74.5,284.5 73.2,287.0"/><polyline points="118.4,265.2 121.5,265.8 124.6,266.5 127.7,267.5 130.8,268.5 133.8,269.8 136.7,271.2 139.6,272.8 142.3,274.6 145.0,276.5 147.5,278.5 149.9,280.7 152.2,282.9 154.4,285.3 156.4,287.8 158.2,290.4 159.8,293.0 161.3,295.7 162.6,298.5 163.7,301.3 164.6,304.2 165.3,307.0 165.8,309.9 166.1,312.8 166.2,315.6 166.1,318.4 165.8,321.2 165.3,323.9 164.6,326.6 163.7,329.1 162.6,331.6 161.3,334.0 159.8,336.3"/><polyline points="118.4,265.2 115.3,264.9 112.2,264.7 109.1,264.7 106.0,264.9 103.0,265.2 100.1,265.8 97.2,266.6 94.5,267.5 91.8,268.6 89.3,269.8 86.9,271.3 84.6,272.9 82.4,274.6 80.4,276.5 78.6,278.6 77.0,280.7"/><polyline points="118.4,265.2 121.4,265.9 124.5,266.8 127.5,267.8 130.4,269.0 133.3,270.4 136.2,271.9 139.0,273.6 141.6,275.4 144.2,277.4 146.7,279.5 149.0,281.8 151.3,284.1 153.3,286.6 155.3,289.1 157.0,291.8 158.6,294.5 160.1,297.3 161.3,300.1 162.4,302.9 163.3,305.8 164.0,308.7 164.5,311.6 164.8,314.5 164.9,317.3 164.8,320.1 164.5,322.9 164.0,325.6 163.3,328.2 162.4,330.7 161.3,333.2 160.1,335.5 158.6,337.8 157.0,339.9 155.3,341.8"/><polyline points="118.4,265.2 115.4,264.8 112.3,264.5 109.3,264.3 106.4,264.4 103.5,264.7 100.6,265.2 97.8,265.8 95.2,266.6 92.6,267.6 90.1,268.8 87.8,270.2 85.5,271.7 83.5,273.4 81.5,275.2"/><polyline points="118.4,265.2 121.3,266.0 124.2,267.0 127.1,268.1 130.0,269.4 132.8,270.9 135.6,272.5 138.2,274.3 140.8,276.3 143.3,278.3 145.7,280.5 148.0,282.9 150.1,285.3 152.1,287.8 154.0,290.4 155.7,293.1 157.2,295.9 158.6,298.7 159.8,301.6 160.8,304.5 161.7,307.4 162.4,310.3 162.8,313.2 163.1,316.1 163.2,318.9 163.1,321.8 162.8,324.5 162.4,327.2 161.7,329.8 160.8,332.3 159.8,334.7 158.6,337.0 157.2,339.2 155.7,341.2 154.0,343.1 152.1,344.9"/><polyline points="118.4,265.2 115.5,264.6 112.6,264.2 109.7,264.0 106.8,264.0 104.0,264.2 101.2,264.5 98.6,265.1 96.0,265.8 93.5,266.7 91.1,267.8 88.8,269.1 86.7,270.5 84.7,272.1"/><polyline points="118.4,265.2 121.2,266.1 124.0,267.2 126.8,268.4 129.5,269.8 132.2,271.4 134.8,273.1 137.4,275.0 139.8,277.0 142.2,279.2 144.5,281.5 146.7,283.9 148.7,286.4 150.6,289.0 152.4,291.7 154.1,294.5 155.5,297.3 156.9,300.1 158.0,303.0 159.0,306.0 159.8,308.9 160.5,311.8 160.9,314.8 161.2,317.7 161.3,320.5 161.2,323.3 160.9,326.1 160.5,328.7 159.8,331.3 159.0,333.8 158.0,336.2 156.9,338.4 155.5,340.5 154.1,342.5 152.4,344.4 150.6,346.1 148.7,347.6"/><polyline points="118.4,265.2 115.6,264.5 112.8,264.0 110.0,263.7 107.3,263.6 104.6,263.7 102.0,263.9 99.4,264.4 97.0,265.0 94.6,265.8 92.3,266.9 90.1,268.0 88.1,269.4"/><polyline points="118.4,265.2 121.1,266.2 123.7,267.4 126.3,268.7 128.9,270.2 131.5,271.9 134.0,273.7 136.4,275.7 138.7,277.8 141.0,280.0 143.2,282.4 145.2,284.9 147.2,287.5 149.0,290.1 150.7,292.9 152.2,295.7 153.6,298.6 154.9,301.5 156.0,304.4 156.9,307.4 157.7,310.4 158.3,313.3 158.7,316.3 159.0,319.2 159.1,322.0 159.0,324.8 158.7,327.6 158.3,330.2 157.7,332.8 156.9,335.2 156.0,337.5 154.9,339.8 153.6,341.8 152.2,343.8 150.7,345.6 149.0,347.2 147.2,348.7 145.2,349.9"/><polyline points="118.4,265.2 115.7,264.4 113.1,263.8 110.5,263.4 107.9,263.2 105.3,263.2 102.8,263.4 100.4,263.7 98.1,264.3 95.8,265.0 93.6,265.9 91.6,267.1"/><polyline points="118.4,265.2 120.9,266.3 123.4,267.6 125.9,269.0 128.3,270.6 130.7,272.3 133.0,274.2 135.3,276.3 137.5,278.5 139.6,280.8 141.7,283.3 143.6,285.8 145.4,288.5 147.2,291.2 148.7,294.0 150.2,296.9 151.5,299.8 152.7,302.8 153.7,305.7 154.6,308.7 155.3,311.7 155.9,314.7 156.3,317.7 156.6,320.6 156.6,323.4 156.6,326.2 156.3,329.0 155.9,331.6 155.3,334.1 154.6,336.6 153.7,338.9 152.7,341.0 151.5,343.1 150.2,345.0 148.7,346.7 147.2,348.3 145.4,349.7 143.6,350.9"/><polyline points="118.4,265.2 115.9,264.4 113.4,263.7 110.9,263.2 108.5,262.8 106.1,262.7 103.8,262.8 101.5,263.1 99.3,263.6 97.2,264.2 95.1,265.1"/><polyline points="118.4,265.2 120.7,266.4 123.0,267.7 125.3,269.2 127.6,270.9 129.8,272.8 132.0,274.8 134.1,276.9 136.2,279.2 138.2,281.6 140.1,284.1 141.9,286.7 143.6,289.4 145.1,292.2 146.6,295.1 148.0,298.0 149.2,301.0 150.3,304.0 151.3,307.0 152.1,310.0 152.8,313.0 153.3,316.0 153.7,319.0 153.9,321.9 154.0,324.8 153.9,327.6 153.7,330.3 153.3,332.9 152.8,335.4 152.1,337.8 151.3,340.1 150.3,342.2 149.2,344.2 148.0,346.1 146.6,347.7 145.1,349.3 143.6,350.6 141.9,351.8 140.1,352.7"/><polyline points="118.4,265.2 116.1,264.3 113.8,263.5 111.5,262.9 109.2,262.5 107.0,262.3 104.8,262.3 102.7,262.5 100.6,262.9 98.6,263.5 96.7,264.3"/><polyline points="118.4,265.2 120.5,266.5 122.7,267.9 124.8,269.5 126.9,271.2 128.9,273.2 130.9,275.2 132.8,277.4 134.7,279.8 136.5,282.2 138.3,284.8 139.9,287.5 141.5,290.3 143.0,293.1 144.3,296.0 145.6,299.0 146.7,302.0 147.7,305.1 148.6,308.1 149.3,311.2 150.0,314.2 150.4,317.2 150.8,320.2 151.0,323.1 151.1,326.0 151.0,328.8 150.8,331.5 150.4,334.1 150.0,336.6 149.3,339.0 148.6,341.2 147.7,343.3 146.7,345.3 145.6,347.1 144.3,348.7 143.0,350.2 141.5,351.5 139.9,352.6 138.3,353.5 136.5,354.2"/><polyline points="118.4,265.2 116.3,264.2 114.1,263.3 112.0,262.7 109.9,262.2 107.9,261.9 105.9,261.8 104.0,262.0 102.1,262.3 100.3,262.8"/><polyline points="118.4,265.2 120.3,266.5 122.3,268.0 124.2,269.7 126.1,271.5 127.9,273.5 129.7,275.7 131.5,277.9 133.2,280.3 134.8,282.9 136.4,285.5 137.9,288.2 139.3,291.1 140.6,294.0 141.9,296.9 143.0,299.9 144.0,303.0 144.9,306.1 145.7,309.1 146.4,312.2 147.0,315.3 147.4,318.3 147.7,321.3 147.9,324.2 148.0,327.1 147.9,329.9 147.7,332.6 147.4,335.2 147.0,337.7 146.4,340.0 145.7,342.3 144.9,344.3 144.0,346.2 143.0,348.0 141.9,349.6 140.6,351.0 139.3,352.3 137.9,353.3 136.4,354.2 134.8,354.8"/><polyline points="118.4,265.2 116.5,264.1 114.5,263.2 112.6,262.4 110.7,261.9 108.9,261.5 107.1,261.4 105.3,261.5 103.6,261.7 102.0,262.2"/><polyline points="118.4,265.2 120.1,266.6 121.8,268.2 123.5,269.9 125.2,271.8 126.8,273.8 128.5,276.0 130.0,278.4 131.5,280.8 133.0,283.4 134.4,286.1 135.7,288.9 137.0,291.8 138.2,294.7 139.3,297.7 140.3,300.8 141.2,303.9 142.0,307.0 142.7,310.1 143.3,313.2 143.8,316.2 144.2,319.3 144.5,322.3 144.6,325.2 144.7,328.1 144.6,330.9 144.5,333.6 144.2,336.2 143.8,338.6 143.3,341.0 142.7,343.2 142.0,345.2 141.2,347.1 140.3,348.8 139.3,350.4 138.2,351.8 137.0,353.0 135.7,354.0 134.4,354.8 133.0,355.4"/><polyline points="118.4,265.2 116.7,264.0 115.0,263.0 113.3,262.2 111.6,261.6 110.0,261.2 108.3,261.0 106.8,261.0 105.3,261.2"/><polyline points="118.4,265.2 119.9,266.7 121.4,268.3 122.9,270.1 124.3,272.0 125.7,274.1 127.1,276.4 128.5,278.8 129.8,281.3 131.1,283.9 132.3,286.7 133.5,289.5 134.5,292.4 135.6,295.4 136.5,298.4 137.4,301.5 138.2,304.6 138.9,307.7 139.5,310.9 140.0,314.0 140.5,317.1 140.8,320.2 141.0,323.2 141.2,326.1 141.2,329.0 141.2,331.8 141.0,334.5 140.8,337.0 140.5,339.5 140.0,341.8 139.5,344.0 138.9,346.0 138.2,347.9 137.4,349.6 136.5,351.1 135.6,352.4 134.5,353.6 133.5,354.5 132.3,355.3 131.1,355.9 129.8,356.2"/><polyline points="118.4,265.2 116.9,264.0 115.4,262.9 113.9,262.1 112.5,261.4 111.1,260.9 109.7,260.7 108.3,260.6 107.0,260.8"/><polyline points="118.4,265.2 119.7,266.7 120.9,268.4 122.2,270.2 123.4,272.2 124.6,274.4 125.8,276.7 126.9,279.1 128.0,281.7 129.1,284.3 130.1,287.1 131.1,290.0 132.0,292.9 132.9,296.0 133.7,299.0 134.4,302.1 135.1,305.3 135.7,308.4 136.2,311.6 136.6,314.7 137.0,317.8 137.3,320.9 137.5,323.9 137.6,326.9 137.6,329.8 137.6,332.5 137.5,335.2 137.3,337.8 137.0,340.2 136.6,342.5 136.2,344.7 135.7,346.7 135.1,348.5 134.4,350.2 133.7,351.7 132.9,353.0 132.0,354.1 131.1,355.0 130.1,355.8 129.1,356.3 128.0,356.6"/><polyline points="118.4,265.2 117.1,263.9 115.9,262.8 114.6,261.9 113.4,261.2 112.2,260.7 111.0,260.4 109.9,260.3 108.8,260.4"/><polyline points="118.4,265.2 119.4,266.8 120.4,268.5 121.4,270.3 122.4,272.4 123.4,274.6 124.3,276.9 125.3,279.4 126.2,282.0 127.0,284.7 127.9,287.5 128.6,290.4 129.4,293.4 130.1,296.4 130.7,299.5 131.3,302.7 131.9,305.8 132.3,309.0 132.8,312.2 133.1,315.3 133.4,318.4 133.6,321.5 133.8,324.5 133.9,327.5 133.9,330.4 133.9,333.2 133.8,335.8 133.6,338.4 133.4,340.8 133.1,343.1 132.8,345.3 132.3,347.3 131.9,349.1 131.3,350.7 130.7,352.2 130.1,353.5 129.4,354.6 128.6,355.5 127.9,356.1 127.0,356.6 126.2,356.9"/><polyline points="118.4,265.2 117.4,263.9 116.4,262.8 115.4,261.8 114.4,261.0 113.4,260.5 112.5,260.2 111.5,260.0 110.6,260.1"/><polyline points="118.4,265.2 119.2,266.8 119.9,268.5 120.7,270.4 121.4,272.5 122.2,274.7 122.9,277.1 123.6,279.6 124.3,282.2 124.9,285.0 125.5,287.8 126.1,290.7 126.7,293.7 127.2,296.8 127.7,299.9 128.2,303.1 128.6,306.2 128.9,309.4 129.2,312.6 129.5,315.8 129.7,318.9 129.9,322.0 130.0,325.0 130.1,328.0 130.1,330.9 130.1,333.7 130.0,336.3 129.9,338.9 129.7,341.3 129.5,343.6 129.2,345.7 128.9,347.7 128.6,349.5 128.2,351.1 127.7,352.6 127.2,353.8 126.7,354.9 126.1,355.8 125.5,356.4 124.9,356.9 124.3,357.2"/><polyline points="118.4,265.2 117.6,263.9 116.9,262.7 116.1,261.7 115.4,260.9 114.6,260.3 113.9,260.0 113.2,259.8"/><polyline points="118.4,265.2 118.9,266.8 119.4,268.6 119.9,270.5 120.4,272.6 120.9,274.8 121.4,277.2 121.9,279.7 122.3,282.4 122.8,285.1 123.2,288.0 123.6,291.0 124.0,294.0 124.3,297.1 124.6,300.2 124.9,303.4 125.2,306.5 125.5,309.7 125.7,312.9 125.9,316.1 126.0,319.2 126.1,322.3 126.2,325.4 126.3,328.3 126.3,331.2 126.3,334.0 126.2,336.7 126.1,339.2 126.0,341.6 125.9,343.9 125.7,346.0 125.5,348.0 125.2,349.8 124.9,351.4 124.6,352.9 124.3,354.1 124.0,355.2 123.6,356.0 123.2,356.7 122.8,357.1 122.3,357.3"/><polyline points="118.4,265.2 117.9,263.8 117.4,262.6 116.9,261.6 116.4,260.8 115.9,260.2 115.4,259.8 114.9,259.6"/><polyline points="118.4,265.2 118.7,266.8 118.9,268.6 119.2,270.5 119.4,272.6 119.7,274.9 119.9,277.3 120.1,279.8 120.4,282.5 120.6,285.3 120.8,288.1 121.0,291.1 121.2,294.1 121.4,297.2 121.5,300.4 121.7,303.5 121.8,306.7 121.9,309.9 122.0,313.1 122.1,316.3 122.2,319.5 122.3,322.6 122.3,325.6 122.3,328.6 122.3,331.4 122.3,334.2 122.3,336.9 122.3,339.4 122.2,341.8 122.1,344.1 122.0,346.2 121.9,348.2 121.8,350.0 121.7,351.6 121.5,353.0 121.4,354.3 121.2,355.3 121.0,356.1 120.8,356.8 120.6,357.2 120.4,357.4"/><polyline points="118.4,265.2 118.1,263.8 117.9,262.6 117.6,261.6 117.4,260.8 117.1,260.2 116.9,259.8 116.7,259.6"/><polyline points="118.4,265.2 118.4,266.8 118.4,268.6 118.4,270.6 118.4,272.7 118.4,274.9 118.4,277.3 118.4,279.9 118.4,282.5 118.4,285.3 118.4,288.2 118.4,291.1 118.4,294.2 118.4,297.3 118.4,300.4 118.4,303.6 118.4,306.8 118.4,310.0 118.4,313.2 118.4,316.4 118.4,319.5 118.4,322.6 118.4,325.7 118.4,328.6 118.4,331.5 118.4,334.3 118.4,337.0 118.4,339.5 118.4,341.9 118.4,344.2 118.4,346.3 118.4,348.3 118.4,350.1 118.4,351.7 118.4,353.1 118.4,354.3 118.4,355.4 118.4,356.2 118.4,356.8 118.4,357.3 118.4,357.5"/><polyline points="118.4,265.2 118.4,263.8 118.4,262.6 118.4,261.6 118.4,260.8 118.4,260.1 118.4,259.7 118.4,259.5"/><polyline points="118.4,265.2 118.1,266.8 117.9,268.6 117.6,270.5 117.4,272.6 117.1,274.9 116.9,277.3 116.7,279.8 116.4,282.5 116.2,285.3 116.0,288.1 115.8,291.1 115.6,294.1 115.4,297.2 115.3,300.4 115.1,303.5 115.0,306.7 114.9,309.9 114.8,313.1 114.7,316.3 114.6,319.5 114.5,322.6 114.5,325.6 114.5,328.6 114.5,331.4 114.5,334.2 114.5,336.9 114.5,339.4 114.6,341.8 114.7,344.1 114.8,346.2 114.9,348.2 115.0,350.0 115.1,351.6 115.3,353.0 115.4,354.3 115.6,355.3 115.8,356.1 116.0,356.8 116.2,357.2 116.4,357.4"/><polyline points="118.4,265.2 118.7,263.8 118.9,262.6 119.2,261.6 119.4,260.8 119.7,260.2 119.9,259.8 120.1,259.6"/><polyline points="118.4,265.2 117.9,266.8 117.4,268.6 116.9,270.5 116.4,272.6 115.9,274.8 115.4,277.2 114.9,279.7 114.5,282.4 114.0,285.1 113.6,288.0 113.2,291.0 112.8,294.0 112.5,297.1 112.2,300.2 111.9,303.4 111.6,306.5 111.3,309.7 111.1,312.9 110.9,316.1 110.8,319.2 110.7,322.3 110.6,325.4 110.5,328.3 110.5,331.2 110.5,334.0 110.6,336.7 110.7,339.2 110.8,341.6 110.9,343.9 111.1,346.0 111.3,348.0 111.6,349.8 111.9,351.4 112.2,352.9 112.5,354.1 112.8,355.2 113.2,356.0 113.6,356.7 114.0,357.1 114.5,357.3"/><polyline points="118.4,265.2 118.9,263.8 119.4,262.6 119.9,261.6 120.4,260.8 120.9,260.2 121.4,259.8 121.9,259.6"/><polyline points="118.4,265.2 117.6,266.8 116.9,268.5 116.1,270.4 115.4,272.5 114.6,274.7 113.9,277.1 113.2,279.6 112.5,282.2 111.9,285.0 111.3,287.8 110.7,290.7 110.1,293.7 109.6,296.8 109.1,299.9 108.6,303.1 108.2,306.2 107.9,309.4 107.6,312.6 107.3,315.8 107.1,318.9 106.9,322.0 106.8,325.0 106.7,328.0 106.7,330.9 106.7,333.7 106.8,336.3 106.9,338.9 107.1,341.3 107.3,343.6 107.6,345.7 107.9,347.7 108.2,349.5 108.6,351.1 109.1,352.6 109.6,353.8 110.1,354.9 110.7,355.8 111.3,356.4 111.9,356.9 112.5,357.2"/><polyline points="118.4,265.2 119.2,263.9 119.9,262.7 120.7,261.7 121.4,260.9 122.2,260.3 122.9,260.0 123.6,259.8"/><polyline points="118.4,265.2 117.4,266.8 116.4,268.5 115.4,270.3 114.4,272.4 113.4,274.6 112.5,276.9 111.5,279.4 110.6,282.0 109.8,284.7 108.9,287.5 108.2,290.4 107.4,293.4 106.7,296.4 106.1,299.5 105.5,302.7 104.9,305.8 104.5,309.0 104.0,312.2 103.7,315.3 103.4,318.4 103.2,321.5 103.0,324.5 102.9,327.5 102.9,330.4 102.9,333.2 103.0,335.8 103.2,338.4 103.4,340.8 103.7,343.1 104.0,345.3 104.5,347.3 104.9,349.1 105.5,350.7 106.1,352.2 106.7,353.5 107.4,354.6 108.2,355.5 108.9,356.1 109.8,356.6 110.6,356.9"/><polyline points="118.4,265.2 119.4,263.9 120.4,262.8 121.4,261.8 122.4,261.0 123.4,260.5 124.3,260.2 125.3,260.0 126.2,260.1"/><polyline points="118.4,265.2 117.1,266.7 115.9,268.4 114.6,270.2 113.4,272.2 112.2,274.4 111.0,276.7 109.9,279.1 108.8,281.7 107.7,284.3 106.7,287.1 105.7,290.0 104.8,292.9 103.9,296.0 103.1,299.0 102.4,302.1 101.7,305.3 101.1,308.4 100.6,311.6 100.2,314.7 99.8,317.8 99.5,320.9 99.3,323.9 99.2,326.9 99.2,329.8 99.2,332.5 99.3,335.2 99.5,337.8 99.8,340.2 100.2,342.5 100.6,344.7 101.1,346.7 101.7,348.5 102.4,350.2 103.1,351.7 103.9,353.0 104.8,354.1 105.7,355.0 106.7,355.8 107.7,356.3 108.8,356.6"/><polyline points="118.4,265.2 119.7,263.9 120.9,262.8 122.2,261.9 123.4,261.2 124.6,260.7 125.8,260.4 126.9,260.3 128.0,260.4"/><polyline points="118.4,265.2 116.9,266.7 115.4,268.3 113.9,270.1 112.5,272.0 111.1,274.1 109.7,276.4 108.3,278.8 107.0,281.3 105.7,283.9 104.5,286.7 103.3,289.5 102.3,292.4 101.2,295.4 100.3,298.4 99.4,301.5 98.6,304.6 97.9,307.7 97.3,310.9 96.8,314.0 96.3,317.1 96.0,320.2 95.8,323.2 95.6,326.1 95.6,329.0 95.6,331.8 95.8,334.5 96.0,337.0 96.3,339.5 96.8,341.8 97.3,344.0 97.9,346.0 98.6,347.9 99.4,349.6 100.3,351.1 101.2,352.4 102.3,353.6 103.3,354.5 104.5,355.3 105.7,355.9 107.0,356.2"/><polyline points="118.4,265.2 119.9,264.0 121.4,262.9 122.9,262.1 124.3,261.4 125.7,260.9 127.1,260.7 128.5,260.6 129.8,260.8"/><polyline points="118.4,265.2 116.7,266.6 115.0,268.2 113.3,269.9 111.6,271.8 110.0,273.8 108.3,276.0 106.8,278.4 105.3,280.8 103.8,283.4 102.4,286.1 101.1,288.9 99.8,291.8 98.6,294.7 97.5,297.7 96.5,300.8 95.6,303.9 94.8,307.0 94.1,310.1 93.5,313.2 93.0,316.2 92.6,319.3 92.3,322.3 92.2,325.2 92.1,328.1 92.2,330.9 92.3,333.6 92.6,336.2 93.0,338.6 93.5,341.0 94.1,343.2 94.8,345.2 95.6,347.1 96.5,348.8 97.5,350.4 98.6,351.8 99.8,353.0 101.1,354.0 102.4,354.8 103.8,355.4"/><polyline points="118.4,265.2 120.1,264.0 121.8,263.0 123.5,262.2 125.2,261.6 126.8,261.2 128.5,261.0 130.0,261.0 131.5,261.2"/><polyline points="118.4,265.2 116.5,266.5 114.5,268.0 112.6,269.7 110.7,271.5 108.9,273.5 107.1,275.7 105.3,277.9 103.6,280.3 102.0,282.9 100.4,285.5 98.9,288.2 97.5,291.1 96.2,294.0 94.9,296.9 93.8,299.9 92.8,303.0 91.9,306.1 91.1,309.1 90.4,312.2 89.8,315.3 89.4,318.3 89.1,321.3 88.9,324.2 88.8,327.1 88.9,329.9 89.1,332.6 89.4,335.2 89.8,337.7 90.4,340.0 91.1,342.3 91.9,344.3 92.8,346.2 93.8,348.0 94.9,349.6 96.2,351.0 97.5,352.3 98.9,353.3 100.4,354.2 102.0,354.8"/><polyline points="118.4,265.2 120.3,264.1 122.3,263.2 124.2,262.4 126.1,261.9 127.9,261.5 129.7,261.4 131.5,261.5 133.2,261.7 134.8,262.2"/><polyline points="118.4,265.2 116.3,266.5 114.1,267.9 112.0,269.5 109.9,271.2 107.9,273.2 105.9,275.2 104.0,277.4 102.1,279.8 100.3,282.2 98.5,284.8 96.9,287.5 95.3,290.3 93.8,293.1 92.5,296.0 91.2,299.0 90.1,302.0 89.1,305.1 88.2,308.1 87.5,311.2 86.8,314.2 86.4,317.2 86.0,320.2 85.8,323.1 85.7,326.0 85.8,328.8 86.0,331.5 86.4,334.1 86.8,336.6 87.5,339.0 88.2,341.2 89.1,343.3 90.1,345.3 91.2,347.1 92.5,348.7 93.8,350.2 95.3,351.5 96.9,352.6 98.5,353.5 100.3,354.2"/><polyline points="118.4,265.2 120.5,264.2 122.7,263.3 124.8,262.7 126.9,262.2 128.9,261.9 130.9,261.8 132.8,262.0 134.7,262.3 136.5,262.8"/><polyline points="118.4,265.2 116.1,266.4 113.8,267.7 111.5,269.2 109.2,270.9 107.0,272.8 104.8,274.8 102.7,276.9 100.6,279.2 98.6,281.6 96.7,284.1 94.9,286.7 93.3,289.4 91.7,292.2 90.2,295.1 88.8,298.0 87.6,301.0 86.5,304.0 85.5,307.0 84.7,310.0 84.0,313.0 83.5,316.0 83.1,319.0 82.9,321.9 82.8,324.8 82.9,327.6 83.1,330.3 83.5,332.9 84.0,335.4 84.7,337.8 85.5,340.1 86.5,342.2 87.6,344.2 88.8,346.1 90.2,347.7 91.7,349.3 93.2,350.6 94.9,351.8 96.7,352.7"/><polyline points="118.4,265.2 120.7,264.3 123.0,263.5 125.3,262.9 127.6,262.5 129.8,262.3 132.0,262.3 134.1,262.5 136.2,262.9 138.2,263.5 140.1,264.3"/><polyline points="118.4,265.2 115.9,266.3 113.4,267.6 110.9,269.0 108.5,270.6 106.1,272.3 103.8,274.2 101.5,276.3 99.3,278.5 97.2,280.8 95.1,283.3 93.2,285.8 91.4,288.5 89.6,291.2 88.1,294.0 86.6,296.9 85.3,299.8 84.1,302.8 83.1,305.7 82.2,308.7 81.5,311.7 80.9,314.7 80.5,317.7 80.2,320.6 80.2,323.4 80.2,326.2 80.5,329.0 80.9,331.6 81.5,334.1 82.2,336.6 83.1,338.9 84.1,341.0 85.3,343.1 86.6,345.0 88.1,346.7 89.6,348.3 91.4,349.7 93.2,350.9"/><polyline points="118.4,265.2 120.9,264.4 123.4,263.7 125.9,263.2 128.3,262.8 130.7,262.7 133.0,262.8 135.3,263.1 137.5,263.6 139.6,264.2 141.7,265.1"/><polyline points="118.4,265.2 115.7,266.2 113.1,267.4 110.5,268.7 107.9,270.2 105.3,271.9 102.8,273.7 100.4,275.7 98.1,277.8 95.8,280.0 93.6,282.4 91.6,284.9 89.6,287.5 87.8,290.1 86.1,292.9 84.6,295.7 83.2,298.6 81.9,301.5 80.8,304.4 79.9,307.4 79.1,310.4 78.5,313.3 78.1,316.3 77.8,319.2 77.7,322.0 77.8,324.8 78.1,327.6 78.5,330.2 79.1,332.8 79.9,335.2 80.8,337.5 81.9,339.8 83.2,341.8 84.6,343.8 86.1,345.6 87.8,347.2 89.6,348.7 91.6,349.9"/><polyline points="118.4,265.2 121.1,264.4 123.7,263.8 126.3,263.4 128.9,263.2 131.5,263.2 134.0,263.4 136.4,263.7 138.7,264.3 141.0,265.0 143.2,265.9 145.2,267.1"/><polyline points="118.4,265.2 115.6,266.1 112.8,267.2 110.0,268.4 107.3,269.8 104.6,271.4 102.0,273.1 99.4,275.0 97.0,277.0 94.6,279.2 92.3,281.5 90.1,283.9 88.1,286.4 86.2,289.0 84.4,291.7 82.7,294.5 81.3,297.3 79.9,300.1 78.8,303.0 77.8,306.0 77.0,308.9 76.3,311.8 75.9,314.8 75.6,317.7 75.5,320.5 75.6,323.3 75.9,326.1 76.3,328.7 77.0,331.3 77.8,333.8 78.8,336.2 79.9,338.4 81.3,340.5 82.7,342.5 84.4,344.4 86.2,346.1 88.1,347.6"/><polyline points="118.4,265.2 121.2,264.5 124.0,264.0 126.8,263.7 129.5,263.6 132.2,263.7 134.8,263.9 137.4,264.4 139.8,265.0 142.2,265.8 144.5,266.9 146.7,268.0 148.7,269.4"/><polyline points="118.4,265.2 115.5,266.0 112.6,267.0 109.7,268.1 106.8,269.4 104.0,270.9 101.2,272.5 98.6,274.3 96.0,276.3 93.5,278.3 91.1,280.5 88.8,282.9 86.7,285.3 84.7,287.8 82.8,290.4 81.1,293.1 79.6,295.9 78.2,298.7 77.0,301.6 76.0,304.5 75.1,307.4 74.4,310.3 74.0,313.2 73.7,316.1 73.6,318.9 73.7,321.8 74.0,324.5 74.4,327.2 75.1,329.8 76.0,332.3 77.0,334.7 78.2,337.0 79.6,339.2 81.1,341.2 82.8,343.1 84.7,344.9"/><polyline points="118.4,265.2 121.3,264.6 124.2,264.2 127.1,264.0 130.0,264.0 132.8,264.2 135.6,264.5 138.2,265.1 140.8,265.8 143.3,266.7 145.7,267.8 148.0,269.1 150.1,270.5 152.1,272.1"/><polyline points="118.4,265.2 115.4,265.9 112.3,266.8 109.3,267.8 106.4,269.0 103.5,270.4 100.6,271.9 97.8,273.6 95.2,275.4 92.6,277.4 90.1,279.5 87.8,281.8 85.5,284.1 83.5,286.6 81.5,289.1 79.8,291.8 78.2,294.5 76.7,297.3 75.5,300.1 74.4,302.9 73.5,305.8 72.8,308.7 72.3,311.6 72.0,314.5 71.9,317.3 72.0,320.1 72.3,322.9 72.8,325.6 73.5,328.2 74.4,330.7 75.5,333.2 76.7,335.5 78.2,337.8 79.8,339.9 81.5,341.8"/><polyline points="118.4,265.2 121.4,264.8 124.5,264.5 127.5,264.3 130.4,264.4 133.3,264.7 136.2,265.2 139.0,265.8 141.6,266.6 144.2,267.6 146.7,268.8 149.0,270.2 151.3,271.7 153.3,273.4 155.3,275.2"/><polyline points="118.4,265.2 115.3,265.8 112.2,266.5 109.1,267.5 106.0,268.5 103.0,269.8 100.1,271.2 97.2,272.8 94.5,274.6 91.8,276.5 89.3,278.5 86.9,280.7 84.6,282.9 82.4,285.3 80.4,287.8 78.6,290.4 77.0,293.0 75.5,295.7 74.2,298.5 73.1,301.3 72.2,304.2 71.5,307.0 71.0,309.9 70.7,312.8 70.6,315.6 70.7,318.4 71.0,321.2 71.5,323.9 72.2,326.6 73.1,329.1 74.2,331.6 75.5,334.0 77.0,336.3"/><polyline points="118.4,265.2 121.5,264.9 124.6,264.7 127.7,264.7 130.8,264.9 133.8,265.2 136.7,265.8 139.6,266.6 142.3,267.5 145.0,268.6 147.5,269.8 149.9,271.3 152.2,272.9 154.4,274.6 156.4,276.5 158.2,278.6 159.8,280.7"/><polyline points="118.4,265.2 115.2,265.7 112.0,266.3 108.9,267.1 105.7,268.1 102.7,269.3 99.7,270.6 96.8,272.1 93.9,273.7 91.2,275.5 88.6,277.4 86.2,279.5 83.8,281.7 81.6,284.0 79.6,286.4 77.7,288.9 76.0,291.5 74.5,294.2 73.2,296.9 72.1,299.7 71.2,302.5 70.4,305.3 69.9,308.2 69.6,311.0 69.5,313.9 69.6,316.7 69.9,319.5 70.4,322.2 71.2,324.9 72.1,327.5 73.2,330.0"/><polyline points="118.4,265.2 121.6,265.0 124.8,264.9 127.9,265.0 131.1,265.3 134.1,265.8 137.1,266.5 140.0,267.3 142.9,268.3 145.6,269.5 148.2,270.9 150.6,272.4 153.0,274.1 155.2,275.9 157.2,277.9 159.1,280.0 160.8,282.2 162.3,284.5 163.6,287.0"/><polyline points="118.4,265.2 115.2,265.6 111.9,266.1 108.7,266.8 105.5,267.6 102.4,268.7 99.4,269.9 96.4,271.3 93.6,272.8 90.8,274.5 88.2,276.4 85.6,278.3 83.3,280.5 81.0,282.7 79.0,285.0 77.1,287.5 75.4,290.0 73.8,292.6 72.5,295.3 71.4,298.0 70.4,300.8 69.7,303.6 69.1,306.4 68.8,309.3 68.7,312.1 68.8,314.9 69.1,317.7 69.7,320.5 70.4,323.2"/><polyline points="118.4,265.2 121.6,265.1 124.9,265.1 128.1,265.4 131.3,265.8 134.4,266.4 137.4,267.2 140.4,268.1 143.2,269.2 146.0,270.5 148.6,272.0 151.2,273.6 153.5,275.4 155.8,277.3 157.8,279.3 159.7,281.5 161.4,283.8 163.0,286.1 164.3,288.6 165.4,291.2 166.4,293.8"/><polyline points="118.4,265.2 115.1,265.4 111.9,265.8 108.6,266.4 105.4,267.2 102.3,268.1 99.2,269.2 96.2,270.5 93.3,271.9 90.5,273.5 87.9,275.3 85.3,277.2 82.9,279.2 80.7,281.3 78.6,283.6 76.7,286.0 75.0,288.4 73.4,291.0 72.1,293.6 70.9,296.3 70.0,299.0 69.2,301.8 68.7,304.6 68.4,307.5 68.3,310.3 68.4,313.1 68.7,315.9"/><polyline points="118.4,265.2 121.7,265.2 124.9,265.4 128.2,265.7 131.4,266.2 134.5,267.0 137.6,267.8 140.6,268.9 143.5,270.1 146.3,271.5 148.9,273.1 151.5,274.8 153.9,276.6 156.1,278.6 158.2,280.7 160.1,283.0 161.8,285.3 163.4,287.7 164.7,290.3 165.9,292.9 166.8,295.6 167.6,298.3 168.1,301.1"/></g>
<ellipse cx="117.4" cy="265" rx="5" ry="1.6" fill="#0a1020"/>
<g fill="#e0281e"><circle cx="94.8" cy="354.5" r="0.7"/><circle cx="166.3" cy="331.4" r="0.7"/><circle cx="68.8" cy="297.4" r="0.7"/><circle cx="66.7" cy="306.1" r="0.7"/><circle cx="167.7" cy="320.0" r="0.7"/><circle cx="161.8" cy="335.6" r="0.7"/><circle cx="72.4" cy="331.5" r="0.7"/><circle cx="126.9" cy="357.0" r="0.7"/><circle cx="168.4" cy="301.2" r="0.7"/><circle cx="168.4" cy="323.2" r="0.7"/><circle cx="149.3" cy="347.0" r="0.7"/><circle cx="155.4" cy="341.4" r="0.7"/><circle cx="141.3" cy="356.5" r="0.7"/><circle cx="74.6" cy="284.5" r="0.7"/><circle cx="70.6" cy="294.1" r="0.7"/><circle cx="166.8" cy="328.1" r="0.7"/><circle cx="98.9" cy="353.0" r="0.7"/><circle cx="102.9" cy="355.1" r="0.7"/><circle cx="69.0" cy="300.8" r="0.7"/><circle cx="154.6" cy="273.3" r="0.7"/><circle cx="167.9" cy="302.5" r="0.7"/><circle cx="154.3" cy="340.6" r="0.7"/><circle cx="148.9" cy="350.5" r="0.7"/><circle cx="64.7" cy="312.1" r="0.7"/><circle cx="154.0" cy="274.0" r="0.7"/><circle cx="73.8" cy="279.2" r="0.7"/><circle cx="76.3" cy="286.0" r="0.7"/><circle cx="167.5" cy="291.2" r="0.7"/><circle cx="68.1" cy="316.5" r="0.7"/><circle cx="170.3" cy="306.3" r="0.7"/><circle cx="80.7" cy="340.5" r="0.7"/><circle cx="156.6" cy="342.2" r="0.7"/><circle cx="166.3" cy="326.6" r="0.7"/><circle cx="119.2" cy="357.6" r="0.7"/><circle cx="78.3" cy="340.4" r="0.7"/><circle cx="70.2" cy="324.0" r="0.7"/><circle cx="67.2" cy="292.5" r="0.7"/><circle cx="150.7" cy="272.4" r="0.7"/><circle cx="109.5" cy="356.3" r="0.7"/><circle cx="157.3" cy="274.7" r="0.7"/><circle cx="168.5" cy="295.2" r="0.7"/><circle cx="124.3" cy="359.0" r="0.7"/><circle cx="123.5" cy="355.9" r="0.7"/><circle cx="114.3" cy="358.5" r="0.7"/><circle cx="168.2" cy="309.7" r="0.7"/><circle cx="70.7" cy="287.9" r="0.7"/><circle cx="166.8" cy="294.2" r="0.7"/><circle cx="81.9" cy="276.1" r="0.7"/><circle cx="155.5" cy="272.2" r="0.7"/><circle cx="165.4" cy="329.1" r="0.7"/><circle cx="90.4" cy="351.5" r="0.7"/><circle cx="167.9" cy="325.0" r="0.7"/><circle cx="159.6" cy="338.2" r="0.7"/><circle cx="82.5" cy="348.9" r="0.7"/><circle cx="79.3" cy="275.3" r="0.7"/><circle cx="148.9" cy="348.6" r="0.7"/><circle cx="83.6" cy="347.4" r="0.7"/><circle cx="157.5" cy="345.6" r="0.7"/><circle cx="72.7" cy="318.2" r="0.7"/><circle cx="66.7" cy="313.6" r="0.7"/><circle cx="90.0" cy="350.6" r="0.7"/><circle cx="113.6" cy="358.7" r="0.7"/><circle cx="168.3" cy="315.6" r="0.7"/><circle cx="166.4" cy="293.6" r="0.7"/><circle cx="69.1" cy="295.2" r="0.7"/><circle cx="164.2" cy="316.2" r="0.7"/><circle cx="151.4" cy="271.3" r="0.7"/><circle cx="170.6" cy="303.7" r="0.7"/><circle cx="149.9" cy="267.7" r="0.7"/><circle cx="67.7" cy="303.0" r="0.7"/><circle cx="169.2" cy="317.3" r="0.7"/><circle cx="109.0" cy="357.5" r="0.7"/><circle cx="170.4" cy="294.3" r="0.7"/><circle cx="65.3" cy="326.3" r="0.7"/><circle cx="165.7" cy="295.1" r="0.7"/><circle cx="84.4" cy="346.2" r="0.7"/><circle cx="135.7" cy="356.8" r="0.7"/><circle cx="132.1" cy="353.9" r="0.7"/><circle cx="144.6" cy="268.6" r="0.7"/><circle cx="69.3" cy="314.7" r="0.7"/><circle cx="160.4" cy="332.6" r="0.7"/><circle cx="69.2" cy="315.2" r="0.7"/><circle cx="140.8" cy="353.9" r="0.7"/><circle cx="134.0" cy="262.5" r="0.7"/><circle cx="80.4" cy="336.9" r="0.7"/><circle cx="155.8" cy="345.8" r="0.7"/><circle cx="69.8" cy="293.5" r="0.7"/><circle cx="156.5" cy="348.5" r="0.7"/><circle cx="162.3" cy="289.5" r="0.7"/><circle cx="117.8" cy="358.1" r="0.7"/><circle cx="73.4" cy="282.0" r="0.7"/><circle cx="115.4" cy="357.6" r="0.7"/><circle cx="162.1" cy="281.5" r="0.7"/><circle cx="88.6" cy="346.5" r="0.7"/><circle cx="161.2" cy="279.9" r="0.7"/><circle cx="71.8" cy="333.2" r="0.7"/><circle cx="69.1" cy="298.8" r="0.7"/><circle cx="65.8" cy="300.9" r="0.7"/><circle cx="139.4" cy="354.3" r="0.7"/><circle cx="170.0" cy="309.7" r="0.7"/><circle cx="68.8" cy="316.6" r="0.7"/><circle cx="70.7" cy="291.6" r="0.7"/><circle cx="109.5" cy="359.1" r="0.7"/><circle cx="162.1" cy="282.4" r="0.7"/><circle cx="71.8" cy="325.4" r="0.7"/><circle cx="68.6" cy="304.8" r="0.7"/><circle cx="166.9" cy="290.3" r="0.7"/><circle cx="73.4" cy="291.3" r="0.7"/><circle cx="167.0" cy="290.9" r="0.7"/><circle cx="154.9" cy="342.5" r="0.7"/><circle cx="69.4" cy="326.7" r="0.7"/><circle cx="164.9" cy="330.9" r="0.7"/><circle cx="152.5" cy="350.2" r="0.7"/><circle cx="127.6" cy="354.6" r="0.7"/><circle cx="165.9" cy="294.3" r="0.7"/><circle cx="170.8" cy="305.2" r="0.7"/><circle cx="90.3" cy="352.2" r="0.7"/><circle cx="135.2" cy="354.5" r="0.7"/><circle cx="171.9" cy="314.9" r="0.7"/><circle cx="70.3" cy="292.0" r="0.7"/><circle cx="93.2" cy="352.2" r="0.7"/><circle cx="82.3" cy="273.8" r="0.7"/><circle cx="169.4" cy="303.8" r="0.7"/><circle cx="168.0" cy="320.8" r="0.7"/><circle cx="162.7" cy="281.6" r="0.7"/><circle cx="139.9" cy="263.2" r="0.7"/><circle cx="71.2" cy="286.6" r="0.7"/><circle cx="72.4" cy="331.2" r="0.7"/><circle cx="166.6" cy="331.5" r="0.7"/><circle cx="152.1" cy="266.8" r="0.7"/><circle cx="67.9" cy="323.2" r="0.7"/><circle cx="93.2" cy="347.7" r="0.7"/><circle cx="112.8" cy="356.9" r="0.7"/><circle cx="152.8" cy="343.9" r="0.7"/><circle cx="157.9" cy="340.1" r="0.7"/><circle cx="146.1" cy="351.9" r="0.7"/><circle cx="98.8" cy="355.1" r="0.7"/><circle cx="101.0" cy="355.6" r="0.7"/><circle cx="68.5" cy="308.5" r="0.7"/><circle cx="140.8" cy="353.3" r="0.7"/><circle cx="118.3" cy="358.7" r="0.7"/><circle cx="169.2" cy="313.3" r="0.7"/><circle cx="136.6" cy="352.9" r="0.7"/><circle cx="67.0" cy="316.5" r="0.7"/><circle cx="66.2" cy="310.1" r="0.7"/><circle cx="68.7" cy="306.5" r="0.7"/><circle cx="76.3" cy="336.5" r="0.7"/><circle cx="153.9" cy="345.2" r="0.7"/><circle cx="164.7" cy="330.0" r="0.7"/><circle cx="144.3" cy="350.1" r="0.7"/><circle cx="164.3" cy="334.8" r="0.7"/><circle cx="120.9" cy="357.9" r="0.7"/><circle cx="147.6" cy="351.8" r="0.7"/><circle cx="70.4" cy="325.1" r="0.7"/><circle cx="173.4" cy="299.2" r="0.7"/><circle cx="69.2" cy="293.9" r="0.7"/><circle cx="98.0" cy="359.2" r="0.7"/><circle cx="85.5" cy="349.0" r="0.7"/><circle cx="67.7" cy="316.4" r="0.7"/><circle cx="66.5" cy="307.6" r="0.7"/><circle cx="171.7" cy="310.1" r="0.7"/><circle cx="113.7" cy="359.7" r="0.7"/><circle cx="168.9" cy="321.7" r="0.7"/><circle cx="168.8" cy="315.5" r="0.7"/><circle cx="73.3" cy="282.3" r="0.7"/><circle cx="67.9" cy="299.4" r="0.7"/><circle cx="108.1" cy="262.1" r="0.7"/><circle cx="80.8" cy="339.0" r="0.7"/><circle cx="151.4" cy="352.4" r="0.7"/><circle cx="158.0" cy="277.4" r="0.7"/><circle cx="70.8" cy="301.5" r="0.7"/><circle cx="65.5" cy="307.1" r="0.7"/><circle cx="157.6" cy="278.0" r="0.7"/><circle cx="124.5" cy="355.7" r="0.7"/><circle cx="169.8" cy="318.4" r="0.7"/><circle cx="159.9" cy="339.8" r="0.7"/><circle cx="143.6" cy="267.5" r="0.7"/><circle cx="64.1" cy="312.1" r="0.7"/><circle cx="68.7" cy="297.6" r="0.7"/><circle cx="163.9" cy="330.9" r="0.7"/><circle cx="133.4" cy="359.2" r="0.7"/><circle cx="67.8" cy="315.0" r="0.7"/><circle cx="161.6" cy="330.8" r="0.7"/><circle cx="149.2" cy="348.4" r="0.7"/><circle cx="100.2" cy="358.3" r="0.7"/><circle cx="71.1" cy="287.6" r="0.7"/><circle cx="112.4" cy="358.2" r="0.7"/><circle cx="69.8" cy="303.6" r="0.7"/><circle cx="69.2" cy="319.3" r="0.7"/><circle cx="158.8" cy="277.4" r="0.7"/><circle cx="135.8" cy="359.7" r="0.7"/><circle cx="168.8" cy="313.9" r="0.7"/><circle cx="66.9" cy="321.7" r="0.7"/><circle cx="73.6" cy="322.8" r="0.7"/><circle cx="112.3" cy="359.2" r="0.7"/><circle cx="131.9" cy="360.9" r="0.7"/><circle cx="72.5" cy="283.4" r="0.7"/><circle cx="169.1" cy="293.4" r="0.7"/><circle cx="153.5" cy="346.1" r="0.7"/><circle cx="155.8" cy="277.1" r="0.7"/><circle cx="172.8" cy="316.8" r="0.7"/><circle cx="167.8" cy="309.6" r="0.7"/><circle cx="101.9" cy="355.9" r="0.7"/><circle cx="150.4" cy="346.5" r="0.7"/><circle cx="146.6" cy="265.3" r="0.7"/><circle cx="169.7" cy="309.0" r="0.7"/><circle cx="153.3" cy="340.5" r="0.7"/><circle cx="163.5" cy="286.6" r="0.7"/><circle cx="106.6" cy="353.4" r="0.7"/><circle cx="86.3" cy="340.9" r="0.7"/><circle cx="71.5" cy="279.9" r="0.7"/><circle cx="86.3" cy="345.9" r="0.7"/><circle cx="168.0" cy="323.6" r="0.7"/><circle cx="160.2" cy="338.7" r="0.7"/><circle cx="164.4" cy="289.3" r="0.7"/><circle cx="155.6" cy="274.0" r="0.65"/><circle cx="164.6" cy="288.3" r="0.65"/><circle cx="166.2" cy="276.6" r="0.65"/><circle cx="174.8" cy="311.8" r="0.65"/><circle cx="173.9" cy="293.7" r="0.65"/><circle cx="172.0" cy="315.5" r="0.65"/><circle cx="167.1" cy="301.2" r="0.65"/><circle cx="171.0" cy="301.5" r="0.65"/><circle cx="173.0" cy="302.6" r="0.65"/><circle cx="155.7" cy="277.1" r="0.65"/><circle cx="168.1" cy="314.1" r="0.65"/><circle cx="164.8" cy="285.4" r="0.65"/><circle cx="161.2" cy="273.6" r="0.65"/><circle cx="168.9" cy="317.4" r="0.65"/><circle cx="168.6" cy="296.8" r="0.65"/><circle cx="167.5" cy="290.4" r="0.65"/><circle cx="151.0" cy="271.1" r="0.65"/><circle cx="157.9" cy="267.8" r="0.65"/><circle cx="164.4" cy="287.4" r="0.65"/><circle cx="176.5" cy="313.5" r="0.65"/><circle cx="162.4" cy="285.0" r="0.65"/><circle cx="151.8" cy="272.7" r="0.65"/><circle cx="158.2" cy="279.6" r="0.65"/><circle cx="155.1" cy="273.6" r="0.65"/><circle cx="172.3" cy="289.6" r="0.65"/><circle cx="170.8" cy="302.7" r="0.65"/><circle cx="164.3" cy="281.2" r="0.65"/><circle cx="161.5" cy="280.1" r="0.65"/><circle cx="146.1" cy="266.3" r="0.65"/><circle cx="167.7" cy="316.6" r="0.65"/><circle cx="168.2" cy="286.1" r="0.65"/><circle cx="169.2" cy="310.1" r="0.65"/><circle cx="156.5" cy="275.2" r="0.65"/><circle cx="163.2" cy="280.8" r="0.65"/><circle cx="174.7" cy="316.8" r="0.65"/><circle cx="167.3" cy="310.7" r="0.65"/><circle cx="146.5" cy="261.8" r="0.65"/><circle cx="171.6" cy="312.4" r="0.65"/><circle cx="164.7" cy="293.4" r="0.65"/><circle cx="166.7" cy="277.9" r="0.65"/><circle cx="175.4" cy="307.6" r="0.65"/><circle cx="168.8" cy="317.1" r="0.65"/><circle cx="148.0" cy="268.9" r="0.65"/><circle cx="169.2" cy="287.1" r="0.65"/><circle cx="173.6" cy="315.7" r="0.65"/><circle cx="172.8" cy="295.2" r="0.65"/><circle cx="166.1" cy="283.6" r="0.65"/><circle cx="147.3" cy="261.5" r="0.65"/><circle cx="159.3" cy="269.0" r="0.65"/><circle cx="168.5" cy="296.1" r="0.65"/><circle cx="149.5" cy="268.9" r="0.65"/><circle cx="172.0" cy="294.6" r="0.65"/><circle cx="147.7" cy="269.7" r="0.65"/><circle cx="168.4" cy="287.6" r="0.65"/><circle cx="161.0" cy="281.3" r="0.65"/><circle cx="165.0" cy="294.2" r="0.65"/><circle cx="159.3" cy="275.4" r="0.65"/><circle cx="172.7" cy="316.8" r="0.65"/><circle cx="171.6" cy="311.6" r="0.65"/><circle cx="154.8" cy="273.5" r="0.65"/><circle cx="173.2" cy="317.0" r="0.65"/><circle cx="156.3" cy="278.3" r="0.65"/><circle cx="168.4" cy="285.7" r="0.65"/><circle cx="162.4" cy="282.8" r="0.65"/><circle cx="174.6" cy="296.2" r="0.65"/><circle cx="153.0" cy="274.5" r="0.65"/><circle cx="160.6" cy="277.6" r="0.65"/><circle cx="168.1" cy="298.7" r="0.65"/><circle cx="174.2" cy="305.6" r="0.65"/><circle cx="164.5" cy="287.9" r="0.65"/><circle cx="169.4" cy="317.1" r="0.65"/><circle cx="169.4" cy="307.4" r="0.65"/><circle cx="157.6" cy="269.5" r="0.65"/><circle cx="162.6" cy="272.1" r="0.65"/><circle cx="164.1" cy="287.4" r="0.65"/><circle cx="155.4" cy="271.8" r="0.65"/><circle cx="174.8" cy="296.0" r="0.65"/><circle cx="151.4" cy="268.6" r="0.65"/><circle cx="158.6" cy="267.6" r="0.65"/><circle cx="149.1" cy="270.9" r="0.65"/><circle cx="146.6" cy="265.3" r="0.65"/><circle cx="175.5" cy="312.8" r="0.65"/><circle cx="176.2" cy="300.8" r="0.65"/><circle cx="170.0" cy="314.6" r="0.65"/><circle cx="156.8" cy="266.5" r="0.65"/><circle cx="167.2" cy="302.9" r="0.65"/><circle cx="169.5" cy="297.2" r="0.65"/><circle cx="161.3" cy="280.0" r="0.65"/><circle cx="150.1" cy="272.4" r="0.65"/><circle cx="157.6" cy="275.0" r="0.65"/><circle cx="167.8" cy="315.9" r="0.65"/><circle cx="168.5" cy="316.5" r="0.65"/><circle cx="164.5" cy="276.4" r="0.65"/><circle cx="171.3" cy="307.4" r="0.65"/><circle cx="146.4" cy="264.3" r="0.65"/><circle cx="165.9" cy="276.8" r="0.65"/><circle cx="153.6" cy="270.8" r="0.65"/><circle cx="167.3" cy="312.1" r="0.65"/><circle cx="166.6" cy="279.6" r="0.65"/><circle cx="167.4" cy="304.1" r="0.65"/><circle cx="143.5" cy="267.1" r="0.65"/><circle cx="169.4" cy="313.8" r="0.65"/><circle cx="175.4" cy="302.0" r="0.65"/><circle cx="159.5" cy="278.4" r="0.65"/><circle cx="172.4" cy="316.7" r="0.65"/><circle cx="159.4" cy="271.8" r="0.65"/><circle cx="158.6" cy="277.3" r="0.65"/><circle cx="144.9" cy="260.4" r="0.65"/><circle cx="173.0" cy="313.9" r="0.65"/><circle cx="167.0" cy="315.0" r="0.65"/><circle cx="156.3" cy="272.0" r="0.65"/><circle cx="175.6" cy="317.1" r="0.65"/><circle cx="161.1" cy="281.1" r="0.65"/><circle cx="164.7" cy="282.3" r="0.65"/><circle cx="168.6" cy="314.2" r="0.65"/><circle cx="174.2" cy="306.0" r="0.65"/><circle cx="174.6" cy="307.4" r="0.65"/><circle cx="168.0" cy="293.7" r="0.65"/><circle cx="159.4" cy="276.9" r="0.65"/><circle cx="167.8" cy="305.0" r="0.65"/><circle cx="156.3" cy="268.4" r="0.65"/><circle cx="154.1" cy="275.2" r="0.65"/><circle cx="145.8" cy="263.1" r="0.65"/><circle cx="164.3" cy="273.7" r="0.65"/><circle cx="176.5" cy="311.8" r="0.65"/><circle cx="155.0" cy="275.9" r="0.65"/><circle cx="149.2" cy="265.8" r="0.65"/><circle cx="170.7" cy="300.0" r="0.65"/><circle cx="155.9" cy="272.4" r="0.65"/><circle cx="171.5" cy="293.6" r="0.65"/><circle cx="174.9" cy="302.1" r="0.65"/><circle cx="167.1" cy="297.7" r="0.65"/><circle cx="170.0" cy="308.7" r="0.65"/><circle cx="167.6" cy="291.0" r="0.65"/><circle cx="168.7" cy="302.2" r="0.65"/><circle cx="155.4" cy="274.1" r="0.65"/><circle cx="154.7" cy="265.4" r="0.65"/><circle cx="167.4" cy="291.9" r="0.65"/><circle cx="167.4" cy="277.8" r="0.65"/><circle cx="164.8" cy="287.9" r="0.65"/><circle cx="173.4" cy="306.5" r="0.65"/><circle cx="167.2" cy="318.0" r="0.65"/><circle cx="168.9" cy="283.6" r="0.65"/><circle cx="175.9" cy="308.7" r="0.65"/><circle cx="145.0" cy="265.4" r="0.65"/><circle cx="148.7" cy="269.0" r="0.65"/><circle cx="171.9" cy="317.7" r="0.65"/><circle cx="170.4" cy="314.6" r="0.65"/><circle cx="171.4" cy="310.4" r="0.65"/><circle cx="159.7" cy="271.3" r="0.65"/><circle cx="167.7" cy="315.2" r="0.65"/><circle cx="170.5" cy="292.1" r="0.65"/><circle cx="154.8" cy="271.9" r="0.65"/><circle cx="150.0" cy="269.8" r="0.65"/><circle cx="158.2" cy="272.2" r="0.65"/><circle cx="167.7" cy="296.7" r="0.65"/><circle cx="143.4" cy="264.2" r="0.65"/><circle cx="167.9" cy="298.4" r="0.65"/><circle cx="157.9" cy="277.5" r="0.65"/><circle cx="172.3" cy="305.6" r="0.65"/><circle cx="145.3" cy="267.7" r="0.65"/><circle cx="163.9" cy="280.0" r="0.65"/><circle cx="166.4" cy="296.2" r="0.65"/><circle cx="154.1" cy="267.2" r="0.65"/><circle cx="162.2" cy="282.2" r="0.65"/><circle cx="163.2" cy="272.8" r="0.65"/><circle cx="160.6" cy="275.4" r="0.65"/><circle cx="161.3" cy="278.6" r="0.65"/><circle cx="176.7" cy="310.4" r="0.65"/><circle cx="159.9" cy="280.1" r="0.65"/><circle cx="142.6" cy="292.5" r="0.55"/><circle cx="151.2" cy="298.5" r="0.55"/><circle cx="123.2" cy="282.3" r="0.55"/><circle cx="108.3" cy="276.7" r="0.55"/><circle cx="137.5" cy="289.6" r="0.55"/><circle cx="134.6" cy="290.7" r="0.55"/><circle cx="105.0" cy="277.9" r="0.55"/><circle cx="156.6" cy="299.0" r="0.55"/><circle cx="148.5" cy="294.3" r="0.55"/><circle cx="107.9" cy="274.1" r="0.55"/><circle cx="130.1" cy="286.6" r="0.55"/><circle cx="122.5" cy="281.7" r="0.55"/><circle cx="150.2" cy="297.3" r="0.55"/><circle cx="107.8" cy="279.9" r="0.55"/><circle cx="149.5" cy="296.2" r="0.55"/><circle cx="120.1" cy="283.0" r="0.55"/><circle cx="103.9" cy="277.9" r="0.55"/><circle cx="155.3" cy="297.6" r="0.55"/><circle cx="147.3" cy="293.9" r="0.55"/><circle cx="102.0" cy="274.2" r="0.55"/><circle cx="135.6" cy="291.0" r="0.55"/><circle cx="131.3" cy="289.3" r="0.55"/><circle cx="124.3" cy="284.6" r="0.55"/><circle cx="134.5" cy="289.4" r="0.55"/><circle cx="145.2" cy="291.7" r="0.55"/><circle cx="106.8" cy="277.1" r="0.55"/><circle cx="103.6" cy="275.9" r="0.55"/><circle cx="123.9" cy="284.3" r="0.55"/><circle cx="138.9" cy="291.0" r="0.55"/><circle cx="145.3" cy="293.7" r="0.55"/><circle cx="125.6" cy="288.7" r="0.55"/><circle cx="107.8" cy="271.9" r="0.55"/><circle cx="143.2" cy="291.6" r="0.55"/><circle cx="155.1" cy="299.7" r="0.55"/><circle cx="156.0" cy="299.9" r="0.55"/><circle cx="156.8" cy="298.6" r="0.55"/><circle cx="146.1" cy="295.9" r="0.55"/><circle cx="113.9" cy="278.9" r="0.55"/><circle cx="129.0" cy="285.6" r="0.55"/><circle cx="111.5" cy="279.3" r="0.55"/><circle cx="128.1" cy="288.3" r="0.55"/><circle cx="119.1" cy="344.9" r="0.55"/><circle cx="126.8" cy="295.6" r="0.55"/><circle cx="122.8" cy="319.5" r="0.55"/><circle cx="119.2" cy="342.8" r="0.55"/><circle cx="124.7" cy="347.0" r="0.55"/><circle cx="120.9" cy="328.8" r="0.55"/><circle cx="127.8" cy="302.6" r="0.55"/><circle cx="125.3" cy="307.5" r="0.55"/><circle cx="126.6" cy="296.4" r="0.55"/><circle cx="121.4" cy="342.1" r="0.55"/><circle cx="118.2" cy="349.8" r="0.55"/><circle cx="125.9" cy="306.0" r="0.55"/><circle cx="125.6" cy="293.9" r="0.55"/><circle cx="124.5" cy="318.9" r="0.55"/><circle cx="126.0" cy="300.0" r="0.55"/><circle cx="127.5" cy="285.7" r="0.55"/><circle cx="125.5" cy="310.9" r="0.55"/><circle cx="123.9" cy="326.5" r="0.55"/><circle cx="126.5" cy="319.5" r="0.55"/><circle cx="126.4" cy="301.9" r="0.55"/><circle cx="124.7" cy="325.9" r="0.55"/><circle cx="124.8" cy="312.2" r="0.55"/><circle cx="121.6" cy="327.7" r="0.55"/><circle cx="119.5" cy="329.5" r="0.55"/><circle cx="122.2" cy="337.4" r="0.55"/><circle cx="126.1" cy="287.6" r="0.55"/><circle cx="128.5" cy="301.9" r="0.55"/><circle cx="124.5" cy="284.7" r="0.55"/><circle cx="127.5" cy="296.5" r="0.55"/><circle cx="122.2" cy="316.8" r="0.55"/><circle cx="126.1" cy="297.9" r="0.55"/><circle cx="129.6" cy="286.6" r="0.55"/><circle cx="125.2" cy="333.0" r="0.55"/><circle cx="119.6" cy="335.5" r="0.55"/><circle cx="124.5" cy="316.0" r="0.55"/><circle cx="127.5" cy="300.9" r="0.55"/><circle cx="121.0" cy="332.5" r="0.55"/><circle cx="122.1" cy="334.6" r="0.55"/><circle cx="124.9" cy="312.4" r="0.55"/><circle cx="79.6" cy="307.6" r="0.55"/><circle cx="80.4" cy="308.5" r="0.55"/><circle cx="82.1" cy="312.9" r="0.55"/><circle cx="107.9" cy="336.5" r="0.55"/><circle cx="104.9" cy="336.2" r="0.55"/><circle cx="104.9" cy="334.6" r="0.55"/><circle cx="99.0" cy="326.4" r="0.55"/><circle cx="103.0" cy="330.8" r="0.55"/><circle cx="88.3" cy="315.6" r="0.55"/><circle cx="84.2" cy="314.3" r="0.55"/><circle cx="75.7" cy="302.7" r="0.55"/><circle cx="75.7" cy="303.2" r="0.55"/><circle cx="85.3" cy="314.1" r="0.55"/><circle cx="72.8" cy="299.7" r="0.55"/><circle cx="98.4" cy="327.3" r="0.55"/><circle cx="92.6" cy="325.7" r="0.55"/><circle cx="103.6" cy="332.4" r="0.55"/><circle cx="108.1" cy="332.9" r="0.55"/><circle cx="76.3" cy="305.0" r="0.55"/><circle cx="74.9" cy="299.1" r="0.55"/><circle cx="97.1" cy="323.5" r="0.55"/><circle cx="83.5" cy="311.9" r="0.55"/><circle cx="101.1" cy="331.6" r="0.55"/><circle cx="89.2" cy="317.1" r="0.55"/><circle cx="82.4" cy="309.9" r="0.55"/><circle cx="136.2" cy="325.8" r="0.55"/><circle cx="158.0" cy="319.5" r="0.55"/><circle cx="136.2" cy="326.0" r="0.55"/><circle cx="135.1" cy="324.0" r="0.55"/><circle cx="130.2" cy="326.9" r="0.55"/><circle cx="156.9" cy="320.2" r="0.55"/><circle cx="129.4" cy="323.4" r="0.55"/><circle cx="118.5" cy="330.0" r="0.55"/><circle cx="156.6" cy="322.0" r="0.55"/><circle cx="136.2" cy="324.8" r="0.55"/><circle cx="162.3" cy="319.7" r="0.55"/><circle cx="150.8" cy="321.6" r="0.55"/><circle cx="151.0" cy="323.6" r="0.55"/><circle cx="151.9" cy="319.6" r="0.55"/><circle cx="134.8" cy="326.6" r="0.55"/><circle cx="162.8" cy="320.9" r="0.55"/><circle cx="121.5" cy="330.8" r="0.55"/><circle cx="159.1" cy="319.2" r="0.55"/><circle cx="160.0" cy="321.1" r="0.55"/><circle cx="144.0" cy="321.1" r="0.55"/><circle cx="148.3" cy="323.3" r="0.55"/><circle cx="128.2" cy="326.3" r="0.55"/><circle cx="154.2" cy="322.5" r="0.55"/><circle cx="154.1" cy="320.3" r="0.55"/><circle cx="141.6" cy="323.7" r="0.55"/><circle cx="86.3" cy="278.0" r="0.55"/><circle cx="98.0" cy="296.0" r="0.55"/><circle cx="87.1" cy="279.0" r="0.55"/><circle cx="86.1" cy="275.7" r="0.55"/><circle cx="99.5" cy="298.6" r="0.55"/><circle cx="100.6" cy="299.8" r="0.55"/><circle cx="100.4" cy="297.2" r="0.55"/><circle cx="91.7" cy="285.1" r="0.55"/><circle cx="86.1" cy="274.6" r="0.55"/><circle cx="82.4" cy="272.6" r="0.55"/><circle cx="93.0" cy="290.8" r="0.55"/><circle cx="92.7" cy="285.5" r="0.55"/><circle cx="90.3" cy="278.9" r="0.55"/><circle cx="88.7" cy="281.8" r="0.55"/><circle cx="91.1" cy="285.0" r="0.55"/><circle cx="149.1" cy="280.5" r="0.6"/><circle cx="104.8" cy="267.6" r="0.6"/><circle cx="102.0" cy="274.8" r="0.6"/><circle cx="92.8" cy="315.9" r="0.6"/><circle cx="108.0" cy="298.0" r="0.6"/><circle cx="81.4" cy="328.4" r="0.6"/><circle cx="109.7" cy="272.5" r="0.6"/><circle cx="118.4" cy="338.8" r="0.6"/><circle cx="82.2" cy="318.7" r="0.6"/><circle cx="85.3" cy="329.1" r="0.6"/><circle cx="136.9" cy="300.0" r="0.6"/><circle cx="94.6" cy="274.6" r="0.6"/><circle cx="92.8" cy="329.5" r="0.6"/><circle cx="127.6" cy="307.1" r="0.6"/><circle cx="99.9" cy="303.5" r="0.6"/><circle cx="127.6" cy="264.3" r="0.6"/><circle cx="103.3" cy="306.7" r="0.6"/><circle cx="87.0" cy="293.0" r="0.6"/><circle cx="111.4" cy="275.9" r="0.6"/><circle cx="90.5" cy="276.0" r="0.6"/><circle cx="88.1" cy="304.4" r="0.6"/><circle cx="139.1" cy="301.6" r="0.6"/><circle cx="106.4" cy="281.8" r="0.6"/><circle cx="119.7" cy="292.3" r="0.6"/><circle cx="146.8" cy="305.8" r="0.6"/><circle cx="141.9" cy="317.0" r="0.6"/><circle cx="113.9" cy="311.7" r="0.6"/><circle cx="91.4" cy="323.3" r="0.6"/><circle cx="109.3" cy="282.3" r="0.6"/><circle cx="116.2" cy="330.5" r="0.6"/><circle cx="115.9" cy="263.4" r="0.6"/><circle cx="96.4" cy="304.8" r="0.6"/><circle cx="127.9" cy="280.9" r="0.6"/><circle cx="122.5" cy="324.8" r="0.6"/><circle cx="125.6" cy="267.2" r="0.6"/><circle cx="96.6" cy="284.7" r="0.6"/><circle cx="97.4" cy="300.1" r="0.6"/><circle cx="146.1" cy="302.3" r="0.6"/><circle cx="90.6" cy="276.2" r="0.6"/><circle cx="131.6" cy="279.4" r="0.6"/><circle cx="108.7" cy="341.6" r="0.6"/><circle cx="149.2" cy="338.6" r="0.6"/><circle cx="91.4" cy="342.5" r="0.6"/><circle cx="115.2" cy="336.9" r="0.6"/><circle cx="117.7" cy="338.9" r="0.6"/><circle cx="119.4" cy="310.7" r="0.6"/><circle cx="113.9" cy="284.2" r="0.6"/><circle cx="119.2" cy="334.1" r="0.6"/><circle cx="87.4" cy="312.4" r="0.6"/><circle cx="93.2" cy="279.8" r="0.6"/><circle cx="88.5" cy="342.6" r="0.6"/><circle cx="125.4" cy="299.7" r="0.6"/><circle cx="139.8" cy="269.4" r="0.6"/><circle cx="122.2" cy="291.5" r="0.6"/><circle cx="137.0" cy="276.2" r="0.6"/><circle cx="123.5" cy="309.0" r="0.6"/><circle cx="155.3" cy="297.2" r="0.6"/><circle cx="118.4" cy="323.3" r="0.6"/><circle cx="132.8" cy="326.1" r="0.6"/><circle cx="123.0" cy="281.5" r="0.6"/></g>
<!-- text -->
<text class="lb" x="171.6" y="236.1" text-anchor="middle" style="fill:#e0322c">Point cloud</text>
<text class="lb" x="171.4" y="254.2" text-anchor="middle" style="fill:#e0322c">of the bone</text>
<line x1="173.2" y1="257" x2="165.3" y2="272.5" stroke="#1a1a1a" stroke-width="1.5"/>
<path d="M162.8,277.5 L163.3,268.6 L168.6,271.3 Z" fill="#1a1a1a"/>
<text class="b" x="113.6" y="424.8" text-anchor="middle" font-size="18.7">Hip joint center</text>
<text class="b" x="113.6" y="447.5" text-anchor="middle" font-size="18.7" style="fill:#2a96d8">Least squares fitting</text>
</g>

<!-- PANEL B -->
<g id="panelB">
<text class="b" x="181.5" y="27" font-size="17">B</text>
<path d="M240.9,409.5 L330,391 L385,380.5 L446.2,388.6 L446.2,447.4 L240.9,447.4 Z" fill="#5e572c"/>
<g filter="url(#bl1)">
<path d="M272.0,60.0 C274.0,58.3 277.0,65.5 280.0,66.0 C283.0,66.5 286.7,63.8 290.0,63.0 C293.3,62.2 296.7,60.2 300.0,61.0 C303.3,61.8 309.0,64.5 310.0,68.0 C311.0,71.5 307.3,78.0 306.0,82.0 C304.7,86.0 304.3,89.0 302.0,92.0 C299.7,95.0 295.3,98.7 292.0,100.0 C288.7,101.3 285.3,100.7 282.0,100.0 C278.7,99.3 274.7,97.7 272.0,96.0 C269.3,94.3 266.7,93.3 266.0,90.0 C265.3,86.7 267.0,81.0 268.0,76.0 C269.0,71.0 270.0,61.7 272.0,60.0Z" fill="#bdbdbd" />
<path d="M293.0,41.9 C293.3,40.1 295.4,38.0 297.0,36.5 C298.6,35.0 300.5,33.7 302.3,32.6 C304.1,31.5 306.0,30.7 308.0,30.0 C310.0,29.3 311.9,28.6 314.1,28.4 C316.3,28.2 318.8,28.2 321.0,28.6 C323.2,29.0 325.4,29.8 327.6,30.9 C329.8,32.0 332.0,33.5 334.0,35.0 C336.0,36.5 337.8,38.4 339.5,40.2 C341.2,42.0 342.7,44.0 344.0,46.0 C345.3,48.0 346.4,50.2 347.1,52.0 C347.8,53.8 348.0,55.5 348.0,57.0 C348.0,58.5 348.1,60.3 347.1,61.3 C346.1,62.3 343.6,62.6 342.0,63.0 C340.4,63.4 338.9,63.1 337.8,63.9 C336.7,64.7 336.1,66.5 335.5,68.0 C334.9,69.5 336.0,72.0 334.4,73.0 C332.8,74.0 329.1,74.2 326.0,74.0 C322.9,73.8 318.6,72.8 316.0,72.0 C313.4,71.2 312.4,70.2 310.7,68.9 C309.0,67.6 307.3,65.7 305.7,63.9 C304.1,62.1 302.1,59.7 301.0,58.0 C299.9,56.3 299.9,55.5 298.9,53.7 C297.9,51.9 296.0,49.0 295.0,47.0 C294.0,45.0 292.7,43.6 293.0,41.9Z" fill="url(#g21)" />
<path d="M310.0,68.0 C312.2,67.2 315.9,69.5 320.0,70.0 C324.1,70.5 332.2,69.8 334.4,71.0 C336.6,72.2 333.6,75.1 333.0,77.0 C332.4,78.9 330.7,80.7 331.0,82.4 C331.3,84.2 333.0,85.8 335.0,87.5 C337.0,89.2 342.0,91.0 342.8,92.6 C343.6,94.2 341.8,96.4 340.0,97.0 C338.2,97.6 334.4,96.5 332.0,96.0 C329.6,95.5 328.2,94.1 325.9,94.0 C323.6,93.9 320.2,95.2 318.0,95.5 C315.8,95.8 314.4,96.2 312.4,95.9 C310.4,95.6 308.0,94.6 306.0,93.5 C304.0,92.4 301.4,90.7 300.6,89.2 C299.9,87.7 300.9,85.9 301.5,84.5 C302.1,83.1 303.1,82.4 304.0,80.7 C304.9,79.0 306.0,76.6 307.0,74.5 C308.0,72.4 307.8,68.8 310.0,68.0Z" fill="url(#g22)" />
<path d="M302.3,32.6 C304.2,31.0 309.9,28.7 314.1,28.4 C318.3,28.1 323.4,28.9 327.6,30.9 C331.8,32.9 336.6,37.2 339.5,40.2 C342.4,43.2 345.2,47.9 345.0,49.0 C344.8,50.1 340.8,48.2 338.0,47.0 C335.2,45.8 331.3,43.2 328.0,42.0 C324.7,40.8 321.2,40.3 318.0,40.0 C314.8,39.7 311.5,40.3 309.0,40.0 C306.5,39.7 304.1,39.2 303.0,38.0 C301.9,36.8 300.4,34.2 302.3,32.6Z" fill="url(#g23)" opacity="0.9"/>
<path d="M339.0,42.0 C340.0,41.8 342.6,45.2 344.0,47.0 C345.4,48.8 346.6,50.7 347.1,53.0 C347.6,55.3 348.3,59.3 347.1,61.0 C345.9,62.7 341.5,63.8 340.0,63.0 C338.5,62.2 338.3,58.5 338.0,56.0 C337.7,53.5 337.8,50.3 338.0,48.0 C338.2,45.7 338.0,42.2 339.0,42.0Z" fill="#b8b8b8" opacity="0.8"/>
<path d="M308.0,36.0 C308.2,38.0 309.1,43.4 309.5,48.0 C309.9,52.6 310.5,61.2 310.7,63.9" fill="none" stroke="#a0a0a0" stroke-width="1.6" opacity="0.8"/>
<path d="M293.0,41.9 C294.0,43.9 296.8,50.0 298.9,53.7 C301.0,57.4 303.7,61.4 305.7,63.9 C307.7,66.4 309.9,68.1 310.7,68.9" fill="none" stroke="#6a6a6a" stroke-width="1.2" />
<path d="M304.0,80.7 C305.2,78.2 306.7,75.5 308.0,74.0 C309.3,72.5 311.2,70.7 312.0,72.0 C312.8,73.3 313.2,78.7 313.0,82.0 C312.8,85.3 312.2,90.2 311.0,92.0 C309.8,93.8 307.7,93.5 306.0,93.0 C304.3,92.5 301.3,91.0 301.0,89.0 C300.7,87.0 302.8,83.2 304.0,80.7Z" fill="#a9a9a9" opacity="0.8"/>
<path d="M327.0,84.0 C327.5,82.0 329.5,79.3 331.0,80.0 C332.5,80.7 334.0,85.8 336.0,88.0 C338.0,90.2 341.3,91.3 343.0,93.0 C344.7,94.7 347.2,97.3 346.0,98.0 C344.8,98.7 339.0,98.0 336.0,97.0 C333.0,96.0 329.5,94.2 328.0,92.0 C326.5,89.8 326.5,86.0 327.0,84.0Z" fill="#a5a5a5" opacity="0.9"/>
<path d="M331.0,84.0 C332.0,82.7 334.2,81.5 336.0,82.0 C337.8,82.5 340.0,85.2 342.0,87.0 C344.0,88.8 346.3,90.8 348.0,93.0 C349.7,95.2 352.0,98.2 352.0,100.0 C352.0,101.8 350.0,103.7 348.0,104.0 C346.0,104.3 342.3,103.3 340.0,102.0 C337.7,100.7 335.7,98.0 334.0,96.0 C332.3,94.0 330.5,92.0 330.0,90.0 C329.5,88.0 330.0,85.3 331.0,84.0Z" fill="url(#g24)" />
<path d="M266.8,38.5 C267.7,38.4 269.1,39.6 270.0,40.5 C270.9,41.4 271.3,42.0 271.9,43.6 C272.5,45.2 273.1,48.0 273.4,50.0 C273.7,52.0 273.7,53.4 273.6,55.4 C273.5,57.4 273.3,59.8 273.0,62.0 C272.7,64.2 272.4,66.2 271.9,68.9 C271.4,71.6 270.8,74.8 270.0,78.0 C269.2,81.2 268.0,85.0 267.0,88.0 C266.0,91.0 265.1,94.7 264.0,96.0 C262.9,97.3 261.2,98.7 260.5,96.0 C259.8,93.3 259.7,86.2 259.8,80.0 C259.9,73.8 260.4,64.3 260.9,58.8 C261.4,53.3 262.0,50.0 262.6,47.0 C263.2,44.0 263.8,42.4 264.5,41.0 C265.2,39.6 265.9,38.6 266.8,38.5Z" fill="url(#g25)" />
<path d="M273.6,48.6 C274.6,47.0 277.0,47.0 279.0,46.5 C281.0,46.0 283.1,45.5 285.4,45.3 C287.7,45.1 290.5,45.1 293.0,45.2 C295.5,45.3 299.3,45.1 300.6,46.1 C301.9,47.1 301.0,49.5 301.0,51.0 C301.0,52.5 300.8,54.1 300.6,55.4 C300.4,56.7 300.0,57.9 299.6,59.0 C299.2,60.1 299.2,61.4 298.1,62.2 C297.0,63.0 294.6,63.5 293.0,64.0 C291.4,64.5 290.0,64.5 288.8,65.5 C287.6,66.5 286.9,68.6 286.0,70.0 C285.1,71.4 284.5,73.1 283.7,74.0 C282.9,74.9 281.9,75.2 281.0,75.5 C280.1,75.8 279.4,76.6 278.6,75.7 C277.8,74.8 276.8,72.0 276.0,70.0 C275.2,68.0 274.1,66.2 273.6,63.9 C273.1,61.6 273.2,58.5 273.2,56.0 C273.2,53.5 272.6,50.2 273.6,48.6Z" fill="url(#g26)" />
<path d="M274.0,50.0 C274.8,48.2 277.3,48.0 279.0,47.5 C280.7,47.0 283.5,45.6 284.0,47.0 C284.5,48.4 282.8,52.8 282.0,56.0 C281.2,59.2 280.0,64.7 279.0,66.0 C278.0,67.3 276.8,65.3 276.0,64.0 C275.2,62.7 274.3,60.3 274.0,58.0 C273.7,55.7 273.2,51.8 274.0,50.0Z" fill="#b5b5b5" opacity="0.75"/>
<path d="M297.2,65.5 C298.2,65.8 301.0,66.4 303.0,67.0 C305.0,67.6 308.0,68.6 309.0,68.9" fill="none" stroke="#3a3a3a" stroke-width="1.2" />
<path d="M270.0,78.0 C271.3,75.8 274.0,75.0 276.0,75.0 C278.0,75.0 280.0,76.8 282.0,78.0 C284.0,79.2 285.7,80.7 288.0,82.0 C290.3,83.3 293.3,84.3 296.0,86.0 C298.7,87.7 301.7,90.0 304.0,92.0 C306.3,94.0 310.0,96.3 310.0,98.0 C310.0,99.7 306.3,101.7 304.0,102.0 C301.7,102.3 298.7,100.7 296.0,100.0 C293.3,99.3 290.7,98.3 288.0,98.0 C285.3,97.7 282.7,98.7 280.0,98.0 C277.3,97.3 274.0,95.7 272.0,94.0 C270.0,92.3 268.3,90.7 268.0,88.0 C267.7,85.3 268.7,80.2 270.0,78.0Z" fill="url(#g27)" />
<path d="M288.8,80.7 C290.0,81.8 293.5,84.9 296.0,87.0 C298.5,89.1 301.3,91.5 304.0,93.5 C306.7,95.5 311.0,98.3 312.4,99.3" fill="none" stroke="#6a6a6a" stroke-width="2.6" />
<path d="M290.0,79.0 C291.3,80.0 295.3,83.0 298.0,85.0 C300.7,87.0 304.7,90.0 306.0,91.0" fill="none" stroke="#4a4a4a" stroke-width="0.8" />
<path d="M260.0,99.0 C260.8,97.4 263.0,96.3 265.0,95.5 C267.0,94.7 269.8,94.0 272.0,94.0 C274.2,94.0 276.4,94.5 278.0,95.5 C279.6,96.5 281.0,97.9 281.5,100.0 C282.0,102.1 281.3,105.0 281.0,108.0 C280.7,111.0 279.8,114.3 279.5,118.0 C279.2,121.7 280.1,127.3 279.0,130.0 C277.9,132.7 275.2,133.7 273.0,134.0 C270.8,134.3 267.6,134.0 266.0,132.0 C264.4,130.0 264.2,125.3 263.5,122.0 C262.8,118.7 262.1,114.8 261.5,112.0 C260.9,109.2 260.2,107.2 260.0,105.0 C259.8,102.8 259.2,100.6 260.0,99.0Z" fill="url(#g28)" />
<path d="M262.0,117.7 L265.8,133.9 L279.6,134.3 L281.0,117.7Z" fill="url(#g29)" /><path d="M265.8,133.3 L268.5,149.8 L281.6,150.3 L279.5,133.6Z" fill="url(#g30)" /><path d="M268.4,149.1 L271.0,165.6 L284.1,166.2 L281.5,149.6Z" fill="url(#g31)" /><path d="M270.9,165.0 L274.1,181.4 L287.0,182.0 L284.0,165.5Z" fill="url(#g32)" /><path d="M273.9,180.7 L277.6,197.1 L290.3,197.7 L286.8,181.3Z" fill="url(#g33)" /><path d="M277.5,196.4 L280.6,212.8 L294.3,213.3 L290.2,197.0Z" fill="url(#g34)" /><path d="M280.5,212.2 L281.2,228.9 L298.2,228.9 L294.2,212.6Z" fill="url(#g35)" /><path d="M281.1,228.2 L277.0,244.3 L302.5,244.3 L298.1,228.2Z" fill="url(#g36)" />
<path d="M276.0,242.0 C276.8,239.7 277.7,237.3 280.0,236.0 C282.3,234.7 286.8,234.0 290.0,234.0 C293.2,234.0 296.8,234.5 299.0,236.0 C301.2,237.5 302.3,240.5 303.0,243.0 C303.7,245.5 303.8,249.0 303.0,251.0 C302.2,253.0 300.5,254.2 298.0,255.0 C295.5,255.8 291.2,256.0 288.0,256.0 C284.8,256.0 281.1,256.0 279.0,255.0 C276.9,254.0 275.9,252.2 275.4,250.0 C274.9,247.8 275.2,244.3 276.0,242.0Z" fill="url(#g37)" />
<path d="M277.4,254.7 L282.6,270.3 L304.3,270.2 L303.7,253.7Z" fill="url(#g38)" /><path d="M282.5,269.6 L283.6,286.0 L302.4,285.9 L304.3,269.5Z" fill="url(#g39)" /><path d="M283.6,285.3 L284.3,301.8 L300.6,301.7 L302.4,285.2Z" fill="url(#g40)" /><path d="M284.3,301.1 L285.0,317.6 L299.2,317.5 L300.7,301.0Z" fill="url(#g41)" /><path d="M285.0,316.9 L285.3,333.4 L297.9,333.3 L299.2,316.8Z" fill="url(#g42)" /><path d="M285.3,332.7 L286.4,349.1 L297.2,349.1 L297.9,332.6Z" fill="url(#g43)" /><path d="M286.3,348.4 L288.2,364.8 L299.4,364.8 L297.1,348.4Z" fill="url(#g44)" /><path d="M288.1,364.1 L288.6,380.6 L301.0,380.6 L299.4,364.1Z" fill="url(#g45)" /><path d="M288.5,379.9 L289.1,396.3 L302.8,396.3 L301.0,379.9Z" fill="url(#g46)" />
<path d="M279.0,258.0 C280.8,258.3 286.2,260.2 290.0,260.0 C293.8,259.8 300.0,257.5 302.0,257.0" fill="none" stroke="#9a9a9a" stroke-width="1.0" />
<path d="M273.5,267.7 L274.0,287.2 L280.7,285.7 L279.0,265.7Z" fill="url(#g47)" /><path d="M273.9,286.5 L275.4,306.1 L280.7,305.2 L280.6,285.0Z" fill="url(#g48)" /><path d="M275.4,305.4 L276.6,324.9 L281.6,324.7 L280.6,304.5Z" fill="url(#g49)" /><path d="M276.6,324.2 L278.2,343.8 L283.6,344.0 L281.5,324.0Z" fill="url(#g50)" /><path d="M278.1,343.1 L279.7,362.6 L285.7,363.4 L283.6,343.3Z" fill="url(#g51)" /><path d="M279.6,361.9 L280.4,381.5 L286.0,382.9 L285.7,362.7Z" fill="url(#g52)" /><path d="M280.4,380.8 L280.0,400.3 L286.0,402.3 L286.0,382.2Z" fill="url(#g53)" />
</g>
<ellipse cx="279.2" cy="415.3" rx="19.6" ry="17.8" fill="url(#g54)"/>
<ellipse cx="279" cy="430" rx="13" ry="2.6" fill="#1a5a88" opacity="0.6"/>
<ellipse cx="324" cy="425.3" rx="25.4" ry="17.6" fill="url(#g55)"/>
<ellipse cx="322" cy="439.5" rx="15" ry="2.4" fill="#1a5a88" opacity="0.6"/>
<g filter="url(#bl1)">
<path d="M288.0,397.0 C289.4,395.5 293.5,395.8 296.0,396.0 C298.5,396.2 301.6,396.7 303.0,398.0 C304.4,399.3 304.8,402.2 304.5,404.0 C304.2,405.8 302.9,408.1 301.0,409.0 C299.1,409.9 295.2,410.2 293.0,409.5 C290.8,408.8 288.3,407.1 287.5,405.0 C286.7,402.9 286.6,398.5 288.0,397.0Z" fill="#e4e4e4" />
<path d="M281.5,402.0 C282.3,400.3 285.7,399.8 287.0,400.5 C288.3,401.2 289.5,404.1 289.5,406.0 C289.5,407.9 288.2,411.2 287.0,412.0 C285.8,412.8 282.9,412.2 282.0,410.5 C281.1,408.8 280.7,403.7 281.5,402.0Z" fill="#d6d6d6" />
<path d="M296.0,406.0 C297.2,404.8 300.8,403.7 303.0,404.0 C305.2,404.3 308.2,406.3 309.0,408.0 C309.8,409.7 309.3,412.8 308.0,414.0 C306.7,415.2 303.0,415.5 301.0,415.0 C299.0,414.5 296.8,412.5 296.0,411.0 C295.2,409.5 294.8,407.2 296.0,406.0Z" fill="#dcdcdc" />
<path d="M291.0,402.0 C292.0,402.3 295.0,404.0 297.0,404.0 C299.0,404.0 302.0,402.3 303.0,402.0" fill="none" stroke="#8e8e8e" stroke-width="0.8" />
<path d="M299.0,411.0 C300.5,411.8 304.7,413.8 308.0,416.0 C311.3,418.2 315.2,422.0 319.0,424.5 C322.8,427.0 329.0,429.9 331.0,431.0" fill="none" stroke="#eef2f6" stroke-width="1.9" />
<path d="M296.0,413.0 C297.3,414.2 301.2,417.9 304.0,420.5 C306.8,423.1 309.8,426.2 313.0,428.5 C316.2,430.8 321.3,433.1 323.0,434.0" fill="none" stroke="#e4eaf0" stroke-width="1.8" />
<path d="M304.0,409.0 C305.7,409.7 310.2,411.0 314.0,413.0 C317.8,415.0 322.8,418.4 327.0,421.0 C331.2,423.6 337.0,427.2 339.0,428.5" fill="none" stroke="#eaeff4" stroke-width="1.7" />
<path d="M292.0,413.0 C293.0,414.5 295.8,419.2 298.0,422.0 C300.2,424.8 302.5,427.7 305.0,430.0 C307.5,432.3 311.7,435.0 313.0,436.0" fill="none" stroke="#d6dee6" stroke-width="1.6" />
<path d="M308.0,406.5 C309.7,407.0 314.5,408.1 318.0,409.5 C321.5,410.9 327.2,414.1 329.0,415.0" fill="none" stroke="#dde4ea" stroke-width="1.5" opacity="0.85"/>
<path d="M338.0,103.5 C339.0,105.2 341.7,110.2 344.0,113.5 C346.3,116.8 349.2,120.2 352.0,123.5 C354.8,126.8 358.0,130.2 361.0,133.5 C364.0,136.8 367.0,140.2 370.0,143.5 C373.0,146.8 376.0,150.2 379.0,153.5 C382.0,156.8 385.2,160.3 388.0,163.5 C390.8,166.7 394.7,171.0 396.0,172.5" fill="none" stroke="#ebebeb" stroke-width="3.4" />
<path d="M335.5,105.5 C336.5,107.2 339.2,112.2 341.5,115.5 C343.8,118.8 346.7,122.2 349.5,125.5 C352.3,128.8 355.5,132.2 358.5,135.5 C361.5,138.8 364.5,142.2 367.5,145.5 C370.5,148.8 373.5,152.2 376.5,155.5 C379.5,158.8 382.7,162.3 385.5,165.5 C388.3,168.7 392.2,173.0 393.5,174.5" fill="none" stroke="#cfcfcf" stroke-width="0.6" />
<path d="M334.8,92.7 L341.7,99.7 L349.7,99.4 L344.8,90.7Z" fill="url(#g56)" /><path d="M341.3,99.1 L346.2,107.6 L355.0,107.1 L349.3,98.9Z" fill="url(#g57)" /><path d="M345.8,107.0 L351.6,114.9 L361.4,114.0 L354.6,106.6Z" fill="url(#g58)" /><path d="M351.1,114.4 L357.8,121.6 L368.0,120.6 L360.9,113.5Z" fill="url(#g59)" /><path d="M357.3,121.1 L363.9,128.3 L374.2,127.5 L367.5,120.1Z" fill="url(#g60)" /><path d="M363.5,127.8 L370.1,135.1 L380.5,134.4 L373.7,127.0Z" fill="url(#g61)" /><path d="M369.6,134.6 L376.2,141.9 L386.4,141.7 L380.0,133.9Z" fill="url(#g62)" /><path d="M375.7,141.4 L382.0,148.9 L392.2,149.0 L385.9,141.2Z" fill="url(#g63)" /><path d="M381.6,148.4 L387.7,156.1 L398.1,156.3 L391.7,148.5Z" fill="url(#g64)" /><path d="M387.3,155.5 L393.4,163.2 L403.7,163.7 L397.6,155.7Z" fill="url(#g65)" /><path d="M393.0,162.6 L398.5,170.7 L408.9,171.5 L403.3,163.2Z" fill="url(#g66)" /><path d="M398.1,170.1 L402.4,179.0 L414.2,179.2 L408.5,170.9Z" fill="url(#g67)" /><path d="M402.0,178.4 L406.2,187.3 L420.2,186.3 L413.8,178.6Z" fill="url(#g68)" />
<path d="M405.0,184.0 C405.8,182.2 409.0,181.2 411.0,181.0 C413.0,180.8 415.2,181.9 417.0,183.0 C418.8,184.1 420.2,186.0 422.0,187.5 C423.8,189.0 426.3,190.4 428.0,192.0 C429.7,193.6 431.1,195.3 432.0,197.0 C432.9,198.7 433.7,200.3 433.5,202.0 C433.3,203.7 432.2,205.6 431.0,207.0 C429.8,208.4 428.0,209.6 426.0,210.5 C424.0,211.4 421.5,212.2 419.0,212.5 C416.5,212.8 412.9,212.9 411.0,212.0 C409.1,211.1 408.2,209.0 407.5,207.0 C406.8,205.0 407.2,202.5 407.0,200.0 C406.8,197.5 406.3,194.7 406.0,192.0 C405.7,189.3 404.2,185.8 405.0,184.0Z" fill="url(#g69)" />
<path d="M397.5,213.0 C398.3,211.2 400.2,210.0 402.0,209.5 C403.8,209.0 406.2,209.3 408.0,210.0 C409.8,210.7 411.2,212.6 413.0,213.5 C414.8,214.4 417.4,214.7 419.0,215.5 C420.6,216.3 422.0,216.9 422.5,218.5 C423.0,220.1 423.4,223.6 422.0,225.0 C420.6,226.4 417.0,227.0 414.0,227.0 C411.0,227.0 406.8,226.2 404.0,225.0 C401.2,223.8 398.1,222.0 397.0,220.0 C395.9,218.0 396.7,214.8 397.5,213.0Z" fill="url(#g70)" />
<path d="M408.0,212.5 C409.0,212.9 411.8,214.2 414.0,215.0 C416.2,215.8 419.8,217.1 421.0,217.5" fill="none" stroke="#7a7a7a" stroke-width="0.9" />
<path d="M397.1,216.7 L394.6,231.4 L418.9,233.4 L422.4,218.7Z" fill="url(#g71)" /><path d="M394.7,230.7 L391.8,245.5 L414.0,246.9 L419.1,232.7Z" fill="url(#g72)" /><path d="M392.0,244.8 L386.9,258.9 L408.0,260.1 L414.2,246.3Z" fill="url(#g73)" /><path d="M387.2,258.3 L382.5,272.6 L402.1,273.3 L408.2,259.4Z" fill="url(#g74)" /><path d="M382.8,271.9 L378.4,286.3 L396.1,286.4 L402.3,272.6Z" fill="url(#g75)" /><path d="M378.6,285.6 L373.6,299.8 L389.4,299.2 L396.3,285.7Z" fill="url(#g76)" /><path d="M373.9,299.2 L367.2,312.6 L383.0,312.2 L389.7,298.6Z" fill="url(#g77)" /><path d="M367.6,312.0 L360.5,325.3 L376.6,325.1 L383.3,311.5Z" fill="url(#g78)" /><path d="M360.8,324.6 L352.8,337.3 L370.8,338.3 L377.0,324.5Z" fill="url(#g79)" />
<path d="M338.4,337.0 C338.7,335.6 339.9,334.4 341.0,333.5 C342.1,332.6 343.7,332.1 345.2,331.8 C346.7,331.5 348.3,331.7 350.0,331.8 C351.7,331.9 354.1,331.8 355.3,332.7 C356.5,333.6 356.7,335.4 357.0,337.0 C357.3,338.6 357.5,340.6 357.0,342.0 C356.5,343.4 355.1,344.5 354.0,345.5 C352.9,346.5 351.6,347.5 350.3,347.9 C349.0,348.3 347.4,348.1 346.0,347.8 C344.6,347.5 343.0,347.2 341.8,346.2 C340.6,345.2 339.6,343.5 339.0,342.0 C338.4,340.5 338.1,338.4 338.4,337.0Z" fill="#f3f3f3" stroke="#8e9fb5" stroke-width="0.9"/>
<path d="M343.0,336.0 C343.8,335.8 346.3,334.5 348.0,334.5 C349.7,334.5 352.2,335.8 353.0,336.0" fill="none" stroke="#c5c5c5" stroke-width="1.2" />
<path d="M357.0,337.0 C357.8,335.2 360.0,334.7 362.0,334.5 C364.0,334.3 367.0,335.1 369.0,336.0 C371.0,336.9 373.1,338.2 373.9,340.0 C374.7,341.8 374.5,344.8 374.0,347.0 C373.5,349.2 372.5,351.5 371.0,353.0 C369.5,354.5 366.8,356.2 365.0,356.0 C363.2,355.8 361.2,353.8 360.0,352.0 C358.8,350.2 358.0,347.5 357.5,345.0 C357.0,342.5 356.2,338.8 357.0,337.0Z" fill="#c9c9c9" />
<path d="M359.0,340.0 C359.8,340.5 362.2,341.7 364.0,343.0 C365.8,344.3 369.0,347.2 370.0,348.0" fill="none" stroke="#8a8a8a" stroke-width="1.0" />
<path d="M361.0,347.0 L366.0,351.0" fill="none" stroke="#7a7a7a" stroke-width="0.9" />
<path d="M364.0,346.0 L371.0,343.5 L380.0,351.0 L392.0,363.0 L404.0,376.0 L412.0,386.0 L415.0,393.0 L411.5,395.0 L404.0,392.5 L393.0,385.0 L381.0,373.0 L370.0,360.0 L364.0,352.0Z" fill="#cfcfcf" opacity="0.9"/>
<path d="M366.0,346.0 C368.0,347.8 373.8,353.0 378.0,357.0 C382.2,361.0 386.8,365.7 391.0,370.0 C395.2,374.3 399.5,379.3 403.0,383.0 C406.5,386.7 410.5,390.5 412.0,392.0" fill="none" stroke="#f6f6f6" stroke-width="2.0" />
<path d="M365.0,351.0 C366.5,352.8 370.7,358.2 374.0,362.0 C377.3,365.8 381.3,370.2 385.0,374.0 C388.7,377.8 392.5,381.8 396.0,385.0 C399.5,388.2 404.3,391.7 406.0,393.0" fill="none" stroke="#f0f0f0" stroke-width="1.8" />
<path d="M370.0,344.5 C372.2,346.2 378.7,351.1 383.0,355.0 C387.3,358.9 391.8,363.7 396.0,368.0 C400.2,372.3 406.0,378.8 408.0,381.0" fill="none" stroke="#f2f2f2" stroke-width="1.6" />
<path d="M368.0,349.0 C370.0,351.0 375.8,356.8 380.0,361.0 C384.2,365.2 388.8,370.2 393.0,374.5 C397.2,378.8 403.0,384.9 405.0,387.0" fill="none" stroke="#7e7e7e" stroke-width="0.7" />
<path d="M366.0,355.0 C367.7,357.0 372.3,362.9 376.0,367.0 C379.7,371.1 384.2,375.8 388.0,379.5 C391.8,383.2 397.2,387.4 399.0,389.0" fill="none" stroke="#8a8a8a" stroke-width="0.7" />
<path d="M373.0,347.0 C375.2,348.9 381.7,354.3 386.0,358.5 C390.3,362.7 395.0,367.7 399.0,372.0 C403.0,376.3 408.2,382.4 410.0,384.5" fill="none" stroke="#909090" stroke-width="0.6" />
<path d="M364.0,353.0 C365.2,354.7 368.3,359.6 371.0,363.0 C373.7,366.4 378.5,371.8 380.0,373.5" fill="none" stroke="#9a9a9a" stroke-width="0.6" />
</g>
<g>
<path d="M259.8,50.0 L262.0,50.0 L262.5,66.0 L266.0,68.0 L268.5,60.5 L270.0,61.0 L269.0,72.0 L266.0,86.0 L263.5,96.0 L262.0,103.0 L258.5,103.0 L259.5,90.0 L260.0,70.0Z" fill="#d2261e" opacity="0.92"/>
<path d="M259.5,103.0 C259.3,104.5 258.5,109.2 258.5,112.0 C258.5,114.8 259.3,118.7 259.5,120.0" fill="none" stroke="#d2261e" stroke-width="1.0" stroke-linecap="round" opacity="0.7"/>
<circle cx="259.5" cy="119.5" r="0.9" fill="#d2261e"/>
<circle cx="262" cy="128" r="0.9" fill="#d2261e"/>
<circle cx="264.8" cy="136.4" r="0.9" fill="#d2261e"/>
<circle cx="266.5" cy="144" r="0.9" fill="#d2261e"/>
<circle cx="268" cy="151.2" r="0.9" fill="#d2261e"/>
<circle cx="269.5" cy="158" r="0.9" fill="#d2261e"/>
<path d="M281.7,81.7 C282.1,83.9 283.1,89.5 284.0,95.0 C284.9,100.5 286.2,107.5 287.0,115.0 C287.8,122.5 287.8,131.7 288.5,140.0 C289.2,148.3 290.1,156.7 291.0,165.0 C291.9,173.3 293.5,185.8 294.0,190.0" fill="none" stroke="#d2261e" stroke-width="1.5" stroke-linecap="round" opacity="1.0"/>
<path d="M285.0,90.0 C285.2,93.3 286.0,102.5 286.0,110.0 C286.0,117.5 285.5,126.7 285.0,135.0 C284.5,143.3 283.7,152.5 283.0,160.0 C282.3,167.5 281.3,176.7 281.0,180.0" fill="none" stroke="#d2261e" stroke-width="1.1" stroke-linecap="round" opacity="1.0"/>
<path d="M297.5,108.0 C296.6,110.8 293.8,118.0 292.0,125.0 C290.2,132.0 288.5,141.7 287.0,150.0 C285.5,158.3 284.2,166.7 283.0,175.0 C281.8,183.3 280.5,195.8 280.0,200.0" fill="none" stroke="#d2261e" stroke-width="1.2" stroke-linecap="round" opacity="1.0"/>
<path d="M294.0,104.0 C293.2,108.3 290.5,121.5 289.0,130.0 C287.5,138.5 286.2,148.0 285.0,155.0 C283.8,162.0 282.5,169.2 282.0,172.0" fill="none" stroke="#d2261e" stroke-width="1.0" stroke-linecap="round" opacity="1.0"/>
<path d="M300.0,112.0 C299.2,115.8 296.5,127.8 295.0,135.0 C293.5,142.2 292.0,149.2 291.0,155.0 C290.0,160.8 289.3,167.5 289.0,170.0" fill="none" stroke="#d2261e" stroke-width="1.0" stroke-linecap="round" opacity="1.0"/>
<path d="M275.4,115.3 C275.5,119.4 275.7,131.7 276.0,140.0 C276.3,148.3 276.6,156.7 277.0,165.0 C277.4,173.3 278.2,185.8 278.5,190.0" fill="none" stroke="#d2261e" stroke-width="1.0" stroke-linecap="round" opacity="0.9"/>
<path d="M279.0,122.0 C280.0,128.3 282.7,147.0 285.0,160.0 C287.3,173.0 290.2,186.2 293.0,200.0 C295.8,213.8 300.5,235.8 302.0,243.0" fill="none" stroke="#d2261e" stroke-width="1.5" stroke-linecap="round" opacity="1.0"/>
<path d="M282.0,118.0 C283.0,125.0 285.7,146.3 288.0,160.0 C290.3,173.7 293.3,186.2 296.0,200.0 C298.7,213.8 302.7,235.8 304.0,243.0" fill="none" stroke="#d2261e" stroke-width="1.5" stroke-linecap="round" opacity="1.0"/>
<path d="M285.0,135.0 C286.0,140.8 288.8,158.3 291.0,170.0 C293.2,181.7 295.7,193.3 298.0,205.0 C300.3,216.7 303.8,234.2 305.0,240.0" fill="none" stroke="#d2261e" stroke-width="1.4" stroke-linecap="round" opacity="1.0"/>
<path d="M288.0,150.0 C289.0,155.8 292.0,174.2 294.0,185.0 C296.0,195.8 298.0,205.8 300.0,215.0 C302.0,224.2 305.0,235.8 306.0,240.0" fill="none" stroke="#d2261e" stroke-width="1.3" stroke-linecap="round" opacity="1.0"/>
<path d="M283.0,150.0 C284.2,156.7 287.7,177.5 290.0,190.0 C292.3,202.5 295.3,215.8 297.0,225.0 C298.7,234.2 299.5,241.7 300.0,245.0" fill="none" stroke="#d2261e" stroke-width="1.3" stroke-linecap="round" opacity="1.0"/>
<path d="M290.0,172.0 C291.0,176.7 294.2,191.3 296.0,200.0 C297.8,208.7 299.7,217.2 301.0,224.0 C302.3,230.8 303.5,238.2 304.0,241.0" fill="none" stroke="#d2261e" stroke-width="1.6" stroke-linecap="round" opacity="1.0"/>
<path d="M292.0,178.0 C293.0,182.3 296.2,195.7 298.0,204.0 C299.8,212.3 302.2,224.0 303.0,228.0" fill="none" stroke="#d2261e" stroke-width="1.4" stroke-linecap="round" opacity="1.0"/>
<path d="M287.0,176.0 C288.0,181.0 291.0,196.0 293.0,206.0 C295.0,216.0 298.0,231.0 299.0,236.0" fill="none" stroke="#d2261e" stroke-width="1.3" stroke-linecap="round" opacity="1.0"/>
<path d="M260.0,104.0 C260.6,109.2 262.2,124.0 263.5,135.0 C264.8,146.0 266.3,157.5 267.5,170.0 C268.7,182.5 269.7,195.8 270.5,210.0 C271.3,224.2 272.2,247.5 272.5,255.0" fill="none" stroke="#d2261e" stroke-width="1.2" stroke-linecap="round" opacity="0.9"/>
<path d="M268.0,170.0 C268.5,175.0 270.2,190.0 271.0,200.0 C271.8,210.0 272.4,220.3 273.0,230.0 C273.6,239.7 274.2,253.3 274.5,258.0" fill="none" stroke="#d2261e" stroke-width="1.6" stroke-linecap="round" opacity="1.0"/>
<path d="M270.0,180.0 C270.5,185.8 272.1,203.3 273.0,215.0 C273.9,226.7 275.1,244.2 275.5,250.0" fill="none" stroke="#d2261e" stroke-width="1.2" stroke-linecap="round" opacity="1.0"/>
<path d="M266.0,160.0 C266.5,165.0 268.1,179.2 269.0,190.0 C269.9,200.8 271.1,219.2 271.5,225.0" fill="none" stroke="#d2261e" stroke-width="1.0" stroke-linecap="round" opacity="0.85"/>
<path d="M274.0,205.0 C274.7,208.8 276.5,220.8 278.0,228.0 C279.5,235.2 282.2,244.7 283.0,248.0" fill="none" stroke="#d2261e" stroke-width="1.0" stroke-linecap="round" opacity="0.85"/>
<path d="M270.5,205.0 L274.5,205.0 L277.0,225.0 L277.8,258.0 L274.2,258.0 L272.5,235.0Z" fill="#d2261e" opacity="0.9"/>
<path d="M287.5,172.0 L291.5,172.0 L297.5,196.0 L302.5,222.0 L306.2,243.0 L301.5,245.3 L296.0,245.0 L292.5,225.0 L289.0,198.0Z" fill="#d2261e" opacity="0.85"/>
<path d="M291.0,185.0 C291.8,190.0 294.4,205.2 296.0,215.0 C297.6,224.8 299.8,239.2 300.5,244.0" fill="none" stroke="#a8a8a8" stroke-width="0.8" />
<path d="M273.0,254.0 C273.2,255.3 273.6,259.7 274.0,262.0 C274.4,264.3 275.2,267.0 275.5,268.0" fill="none" stroke="#d2261e" stroke-width="2.2" stroke-linecap="round" opacity="1.0"/>
<path d="M275.5,254.0 L276.0,262.0" fill="none" stroke="#d2261e" stroke-width="1.4" stroke-linecap="round" opacity="1.0"/>
<path d="M276.0,268.0 C276.3,273.3 277.4,286.3 278.0,300.0 C278.6,313.7 279.2,341.7 279.5,350.0" fill="none" stroke="#d2261e" stroke-width="0.6" stroke-linecap="round" opacity="0.55"/>
<path d="M290.5,303.0 L288.0,330.0 L286.0,360.0 L286.5,392.0" fill="none" stroke="#d2261e" stroke-width="2.0" stroke-linecap="round" opacity="1"/>
<path d="M291.5,303.0 L298.6,340.0 L307.7,380.0 L315.4,409.6" fill="none" stroke="#d2261e" stroke-width="2.3" stroke-linecap="round" opacity="1"/>
</g>
<path d="M409.6,156.3 L419.1,166" stroke="#3a78d0" stroke-width="0.9"/>
<path d="M270.1,220.6 L283.8,209" stroke="#3a78d0" stroke-width="0.8"/>
<path d="M282,70 L283,78" stroke="#3a78d0" stroke-width="0.8"/>
<circle cx="281.3" cy="80" r="3.4" fill="url(#g80)"/>
<circle cx="355.7" cy="54.3" r="3.4" fill="url(#g81)"/>
<circle cx="399.7" cy="145.3" r="3.4" fill="url(#g82)"/>
<circle cx="300.7" cy="193.6" r="3.4" fill="url(#g83)"/>
<circle cx="268.4" cy="251.9" r="3.4" fill="url(#g84)"/>
<circle cx="403.9" cy="224.3" r="3.4" fill="url(#g85)"/>
<circle cx="408.6" cy="269.6" r="3.4" fill="url(#g86)"/>
<circle cx="291.2" cy="302.7" r="3.4" fill="url(#g87)"/>
<circle cx="332.3" cy="324.9" r="3.4" fill="url(#g88)"/>
<circle cx="357.4" cy="335.4" r="3.4" fill="url(#g89)"/>
<circle cx="404.9" cy="370.2" r="3.4" fill="url(#g90)"/>
<circle cx="274.3" cy="399.6" r="3.4" fill="url(#g91)"/>
<circle cx="315.6" cy="421.3" r="3.4" fill="url(#g92)"/>
<circle cx="303.8" cy="247.3" r="3.1" fill="url(#g93)"/>
<circle cx="307.7" cy="391" r="2.8" fill="url(#g94)"/>
<text class="lb" x="217.7" y="49.6" text-anchor="middle">Gluteus</text>
<text class="lb" x="217.4" y="68.2" text-anchor="middle">maximus</text>
<text class="lb" x="215.4" y="104.5" text-anchor="middle">Gluteus</text>
<text class="lb" x="215.1" y="122.3" text-anchor="middle">medius</text>
<text class="lb" x="325.5" y="127.6" text-anchor="middle">Hip</text>
<text class="lb" x="324.7" y="146" text-anchor="middle">abductor</text>
<text class="lb" x="230.9" y="173.5" text-anchor="middle">Hamstring</text>
<text class="lb" x="349.8" y="193.7" text-anchor="middle">Quadriceps</text>
<text class="lb" x="239.5" y="308.4" text-anchor="middle">Triceps</text>
<text class="lb" x="238.9" y="326.7" text-anchor="middle">surae</text>
<text class="lb" x="328" y="295.6" text-anchor="middle">Tibialis</text>
<text class="lb" x="327.8" y="312.3" text-anchor="middle">anterior</text>
<line x1="248" y1="63" x2="261.6" y2="74.4" stroke="#1a1a1a" stroke-width="1.9"/><circle cx="261.6" cy="74.4" r="2.5" fill="#1a1a1a"/>
<line x1="245.5" y1="108.5" x2="259" y2="96.3" stroke="#1a1a1a" stroke-width="1.9"/><circle cx="259" cy="96.3" r="2.5" fill="#1a1a1a"/>
<line x1="303.5" y1="130.8" x2="289.6" y2="136.2" stroke="#1a1a1a" stroke-width="1.9"/><circle cx="289.6" cy="136.2" r="2.5" fill="#1a1a1a"/>
<line x1="253.6" y1="182" x2="270.5" y2="193.4" stroke="#1a1a1a" stroke-width="1.9"/><circle cx="270.5" cy="193.4" r="2.5" fill="#1a1a1a"/>
<line x1="313" y1="199" x2="299" y2="204.5" stroke="#1a1a1a" stroke-width="1.9"/><circle cx="299" cy="204.5" r="2.5" fill="#1a1a1a"/>
<line x1="260" y1="315" x2="276.2" y2="327.6" stroke="#1a1a1a" stroke-width="1.9"/><circle cx="276.2" cy="327.6" r="2.5" fill="#1a1a1a"/>
<line x1="315.6" y1="317.5" x2="301.2" y2="332.9" stroke="#1a1a1a" stroke-width="1.9"/><circle cx="301.2" cy="332.9" r="2.5" fill="#1a1a1a"/>
<g stroke="#1a1a1a" stroke-width="1.3" fill="#1a1a1a">
<line x1="389.1" y1="432.2" x2="389.1" y2="410"/><path d="M389.1,404.5 L386.6,411.5 L391.6,411.5 Z" stroke="none"/>
<line x1="389.1" y1="432.2" x2="373" y2="435"/><path d="M367.5,435.9 L374.4,432.2 L375.2,437.2 Z" stroke="none"/>
<line x1="389.1" y1="432.2" x2="408" y2="433.4"/><path d="M413.8,433.8 L406.8,436 L407.1,431 Z" stroke="none"/>
</g>
<text class="i" x="393" y="401.6" font-size="17">z</text><text class="i" x="353" y="441.7" font-size="17">x</text><text class="i" x="417.5" y="437.8" font-size="17">y</text><text class="i" x="381" y="445" font-size="15.5">O</text>
</g>
<!-- PANEL C -->
<g id="panelC">
<text class="b" x="457.2" y="23.9" font-size="17.2">C</text>
<polyline points="509.8,193.9 510.5,193.9 511.2,193.9 511.9,193.9 512.6,193.9 513.3,193.9 514.0,193.9 514.7,193.9 515.4,193.9 516.1,193.9 516.8,193.9 517.4,193.9 518.1,193.9 518.8,193.9 519.5,193.9 520.2,193.9 520.9,193.9 521.6,193.9 522.3,193.9 523.0,193.8 523.7,193.8 524.4,193.8 525.1,193.7 525.8,193.7 526.5,193.6 527.2,193.5 527.9,193.4 528.6,193.2 529.3,193.0 530.0,192.8 530.6,192.5 531.3,192.1 532.0,191.7 532.7,191.2 533.4,190.6 534.1,189.8 534.8,189.0 535.5,188.0 536.2,186.9 536.9,185.7 537.6,184.2 538.3,182.7 539.0,180.9 539.7,179.0 540.4,176.9 541.1,174.6 541.8,172.1 542.5,169.5 543.2,166.7 543.9,163.7 544.5,160.6 545.2,157.4 545.9,154.0 546.6,150.6 547.3,147.0 548.0,143.4 548.7,139.8 549.4,136.2 550.1,132.5 550.8,128.9 551.5,125.3 552.2,121.8 552.9,118.4 553.6,115.1 554.3,111.8 555.0,108.7 555.7,105.8 556.4,103.0 557.1,100.3 557.8,97.8 558.5,95.5 559.1,93.4 559.8,91.4 560.5,89.6 561.2,87.9 561.9,86.4 562.6,85.1 563.3,83.9 564.0,82.9 564.7,81.9 565.4,81.1 566.1,80.5 566.8,79.9 567.5,79.4 568.2,79.1 568.9,78.8 569.6,78.5 570.3,78.3 571.0,78.2 571.7,78.1 572.4,78.1 573.0,78.0 573.7,78.0 574.4,78.0 575.1,78.0 575.8,78.0 576.5,78.0 577.2,78.0 577.9,78.0 578.6,78.1 579.3,78.1 580.0,78.2 580.7,78.3 581.4,78.5 582.1,78.8 582.8,79.1 583.5,79.4 584.2,79.9 584.9,80.5 585.6,81.1 586.2,81.9 586.9,82.9 587.6,83.9 588.3,85.1 589.0,86.4 589.7,87.9 590.4,89.6 591.1,91.4 591.8,93.4 592.5,95.5 593.2,97.8 593.9,100.3 594.6,103.0 595.3,105.8 596.0,108.7 596.7,111.8 597.4,115.1 598.1,118.4 598.8,121.8 599.5,125.3 600.1,128.9 600.8,132.5 601.5,136.2 602.2,139.8 602.9,143.4 603.6,147.0 604.3,150.6 605.0,154.0 605.7,157.4 606.4,160.6 607.1,163.7 607.8,166.7 608.5,169.5 609.2,172.1 609.9,174.6 610.6,176.9 611.3,179.0 612.0,180.9 612.7,182.7 613.4,184.2 614.0,185.7 614.7,186.9 615.4,188.0 616.1,189.0 616.8,189.8 617.5,190.6 618.2,191.2 618.9,191.7 619.6,192.1 620.3,192.5 621.0,192.8 621.7,193.0 622.4,193.2 623.1,193.4 623.8,193.5 624.5,193.6 625.2,193.7 625.9,193.7 626.6,193.8 627.3,193.8 628.0,193.8 628.6,193.9 629.3,193.9 630.0,193.9 630.7,193.9 631.4,193.9 632.1,193.9 632.8,193.9 633.5,193.9 634.2,193.9 634.9,193.9 635.6,193.9 636.3,193.9 637.0,193.9 637.7,193.9 638.4,193.9 639.1,193.9 639.8,193.9 640.5,193.9 641.2,193.9 641.9,193.9 642.5,193.9 643.2,193.9 643.9,193.9 644.6,193.9 645.3,193.9 646.0,193.9 646.7,193.9 647.4,193.9 648.1,193.9 648.8,193.9" fill="none" stroke="#e8201c" stroke-width="1.8"/>
<polyline points="509.8,195.6 510.5,195.6 511.2,195.6 511.9,195.6 512.6,195.6 513.3,195.6 514.0,195.6 514.7,195.6 515.4,195.6 516.1,195.6 516.8,195.6 517.4,195.6 518.1,195.6 518.8,195.6 519.5,195.6 520.2,195.6 520.9,195.6 521.6,195.6 522.3,195.6 523.0,195.6 523.7,195.6 524.4,195.6 525.1,195.6 525.8,195.6 526.5,195.6 527.2,195.6 527.9,195.6 528.6,195.6 529.3,195.6 530.0,195.6 530.6,195.6 531.3,195.6 532.0,195.6 532.7,195.6 533.4,195.6 534.1,195.6 534.8,195.6 535.5,195.6 536.2,195.6 536.9,195.6 537.6,195.6 538.3,195.6 539.0,195.6 539.7,195.6 540.4,195.6 541.1,195.6 541.8,195.6 542.5,195.6 543.2,195.6 543.9,195.6 544.5,195.6 545.2,195.6 545.9,195.6 546.6,195.6 547.3,195.6 548.0,195.6 548.7,195.6 549.4,195.5 550.1,195.5 550.8,195.5 551.5,195.5 552.2,195.5 552.9,195.5 553.6,195.5 554.3,195.5 555.0,195.5 555.7,195.5 556.4,195.5 557.1,195.4 557.8,195.4 558.5,195.4 559.1,195.4 559.8,195.4 560.5,195.4 561.2,195.3 561.9,195.3 562.6,195.3 563.3,195.3 564.0,195.2 564.7,195.2 565.4,195.2 566.1,195.1 566.8,195.1 567.5,195.1 568.2,195.0 568.9,195.0 569.6,194.9 570.3,194.9 571.0,194.8 571.7,194.8 572.4,194.7 573.0,194.7 573.7,194.6 574.4,194.5 575.1,194.4 575.8,194.3 576.5,194.2 577.2,194.1 577.9,194.0 578.6,193.9 579.3,193.8 580.0,193.7 580.7,193.5 581.4,193.4 582.1,193.2 582.8,193.0 583.5,192.9 584.2,192.7 584.9,192.4 585.6,192.2 586.2,192.0 586.9,191.7 587.6,191.4 588.3,191.1 589.0,190.8 589.7,190.4 590.4,190.1 591.1,189.7 591.8,189.2 592.5,188.8 593.2,188.3 593.9,187.7 594.6,187.2 595.3,186.6 596.0,185.9 596.7,185.2 597.4,184.5 598.1,183.7 598.8,182.8 599.5,181.9 600.1,180.9 600.8,179.8 601.5,178.7 602.2,177.5 602.9,176.1 603.6,174.7 604.3,173.2 605.0,171.6 605.7,169.9 606.4,168.0 607.1,166.1 607.8,163.9 608.5,161.6 609.2,159.2 609.9,156.6 610.6,153.8 611.3,150.7 612.0,147.5 612.7,144.1 613.4,140.3 614.0,136.4 614.7,132.1 615.4,127.5 616.1,122.6 616.8,117.4 617.5,111.7 618.2,105.7 618.9,99.2 619.6,92.3 620.3,84.8 621.0,76.9 621.7,68.3 622.4,59.1 623.1,49.3 623.8,38.8 624.5,27.5 624.9,20.5" fill="none" stroke="#1c54b0" stroke-width="2.6" stroke-dasharray="5.6 5.2"/>
<rect x="509.8" y="20.5" width="139" height="177.5" fill="none" stroke="#1a1a1a" stroke-width="1.2"/>
<g stroke="#1a1a1a" stroke-width="0.8">
<line x1="509.8" y1="77.9" x2="511.6" y2="77.9"/><line x1="509.8" y1="135.9" x2="511.6" y2="135.9"/><line x1="509.8" y1="193.9" x2="511.6" y2="193.9"/>
<line x1="648.8" y1="77.9" x2="647" y2="77.9"/><line x1="648.8" y1="135.9" x2="647" y2="135.9"/><line x1="648.8" y1="193.9" x2="647" y2="193.9"/>
<line x1="579.3" y1="20.5" x2="579.3" y2="22.3"/><line x1="579.3" y1="198" x2="579.3" y2="196.2"/>
</g>
<line x1="515.2" y1="32" x2="564.1" y2="32" stroke="#e8201c" stroke-width="1.8"/>
<line x1="515.2" y1="49.9" x2="564.1" y2="49.9" stroke="#1c54b0" stroke-width="2.6" stroke-dasharray="5.6 5.2"/>
<text class="tk" transform="translate(569.7,37.1) scale(0.965,1)"None>Active</text>
<text class="tk" transform="translate(569.7,56) scale(0.965,1)"None>Passive</text>
<text class="tk" transform="translate(505.0,25.9) scale(0.965,1)" text-anchor="end">1.5</text>
<text class="tk" transform="translate(505.0,83.3) scale(0.965,1)" text-anchor="end">1</text>
<text class="tk" transform="translate(505.0,141.3) scale(0.965,1)" text-anchor="end">0.5</text>
<text class="tk" transform="translate(505.0,199.3) scale(0.965,1)" text-anchor="end">0</text>
<text class="tk" transform="translate(509.8,217.6) scale(0.965,1)" text-anchor="middle">0</text>
<text class="tk" transform="translate(579.3,217.6) scale(0.965,1)" text-anchor="middle">1</text>
<text class="tk" transform="translate(648.8,217.6) scale(0.965,1)" text-anchor="middle">2</text>
<g transform="translate(558.1,236.25) rotate(0)"><text class="i" font-size="15.6" x="0" y="0">l</text><text font-size="8.5" x="4.9" y="-6.5">mus</text><text font-size="15.6" x="23.6" y="0">/</text><text class="i" font-size="15.6" x="31.4" y="0">l</text><text font-size="8.5" x="36.3" y="-6.5">mus</text><text font-size="8.5" x="35.1" y="3.7">0</text></g>
<g transform="translate(478,141.9) rotate(-90)"><text class="i" font-size="15.6" x="0" y="0">F</text><text font-size="8.5" x="10.3" y="-6.5">mus</text><text font-size="15.6" x="28.7" y="0">/</text><text class="i" font-size="15.6" x="38.2" y="0">F</text><text font-size="8.5" x="50.3" y="-6.5">mus</text><text font-size="8.5" x="46.5" y="3.7">0</text></g>
</g>
<!-- PANEL D -->
<g id="panelD">
<text class="b" x="457.4" y="264.5" font-size="17">D</text>
<path d="M508.6,423.5 L531.6,423.5 L532.1,423.3 L532.6,423.1 L533.0,423.0 L533.5,422.8 L533.9,422.6 L534.4,422.4 L534.9,422.2 L535.3,422.0 L535.8,421.8 L536.2,421.6 L536.7,421.4 L537.2,421.2 L537.6,421.0 L538.1,420.8 L538.5,420.5 L539.0,420.3 L539.5,420.1 L539.9,419.8 L540.4,419.6 L540.8,419.4 L541.3,419.1 L541.8,418.8 L542.2,418.6 L542.7,418.3 L543.1,418.0 L543.6,417.8 L544.1,417.5 L544.5,417.2 L545.0,416.9 L545.5,416.6 L545.9,416.3 L546.4,416.0 L546.8,415.6 L547.3,415.3 L547.8,414.9 L548.2,414.6 L548.7,414.2 L549.1,413.9 L549.6,413.5 L550.1,413.1 L550.5,412.7 L551.0,412.3 L551.4,411.9 L551.9,411.5 L552.4,411.0 L552.8,410.6 L553.3,410.1 L553.7,409.6 L554.2,409.1 L554.7,408.6 L555.1,408.1 L555.6,407.6 L556.0,407.0 L556.5,406.5 L557.0,405.9 L557.4,405.3 L557.9,404.6 L558.4,404.0 L558.8,403.3 L559.3,402.6 L559.7,401.9 L560.2,401.2 L560.7,400.4 L561.1,399.6 L561.6,398.8 L562.0,397.9 L562.5,397.1 L563.0,396.1 L563.4,395.2 L563.9,394.2 L564.3,393.1 L564.8,392.1 L565.3,390.9 L565.7,389.8 L566.2,388.5 L566.6,387.2 L567.1,385.9 L567.6,384.5 L568.0,383.0 L568.5,381.4 L568.9,379.8 L569.4,378.0 L569.9,376.2 L570.3,374.3 L570.8,372.2 L571.3,370.0 L571.7,367.7 L572.2,365.2 L572.6,362.6 L573.1,359.8 L573.6,356.8 L574.0,353.6 L574.5,350.1 L574.9,346.3 L575.4,342.3 L575.9,337.9 L576.3,333.0 L576.8,327.7 L577.2,321.9 L577.7,315.5 Q582.3,269.3 586.4,253 L646.8,253" fill="none" stroke="#e8201c" stroke-width="1.8" stroke-linejoin="round"/>
<rect x="508.6" y="250.5" width="138.2" height="177.4" fill="none" stroke="#1a1a1a" stroke-width="1.2"/>
<g stroke="#1a1a1a" stroke-width="0.8">
<line x1="508.6" y1="261.5" x2="510.4" y2="261.5"/><line x1="508.6" y1="315.5" x2="510.4" y2="315.5"/><line x1="508.6" y1="369.5" x2="510.4" y2="369.5"/><line x1="508.6" y1="423.5" x2="510.4" y2="423.5"/>
<line x1="646.8" y1="261.5" x2="645" y2="261.5"/><line x1="646.8" y1="315.5" x2="645" y2="315.5"/><line x1="646.8" y1="369.5" x2="645" y2="369.5"/><line x1="646.8" y1="423.5" x2="645" y2="423.5"/>
<line x1="531.6" y1="250.5" x2="531.6" y2="252.3"/><line x1="554.7" y1="250.5" x2="554.7" y2="252.3"/><line x1="577.7" y1="250.5" x2="577.7" y2="252.3"/><line x1="600.7" y1="250.5" x2="600.7" y2="252.3"/><line x1="623.8" y1="250.5" x2="623.8" y2="252.3"/>
<line x1="531.6" y1="427.9" x2="531.6" y2="426.1"/><line x1="554.7" y1="427.9" x2="554.7" y2="426.1"/><line x1="577.7" y1="427.9" x2="577.7" y2="426.1"/><line x1="600.7" y1="427.9" x2="600.7" y2="426.1"/><line x1="623.8" y1="427.9" x2="623.8" y2="426.1"/>
</g>
<text class="tk" transform="translate(504.0,266.8) scale(0.965,1)" text-anchor="end">1.5</text>
<text class="tk" transform="translate(504.0,320.8) scale(0.965,1)" text-anchor="end">1</text>
<text class="tk" transform="translate(504.0,374.8) scale(0.965,1)" text-anchor="end">0.5</text>
<text class="tk" transform="translate(504.0,428.8) scale(0.965,1)" text-anchor="end">0</text>
<text class="tk" transform="translate(505.0,447.4) scale(0.965,1)" text-anchor="middle">−1.5</text>
<text class="tk" transform="translate(526.6,447.4) scale(0.965,1)" text-anchor="middle">−1</text>
<text class="tk" transform="translate(549.6,447.4) scale(0.965,1)" text-anchor="middle">−0.5</text>
<text class="tk" transform="translate(577.7,447.4) scale(0.965,1)" text-anchor="middle">0</text>
<text class="tk" transform="translate(600.7,447.4) scale(0.965,1)" text-anchor="middle">0.5</text>
<text class="tk" transform="translate(623.8,447.4) scale(0.965,1)" text-anchor="middle">1</text>
<text class="tk" transform="translate(646.8,447.4) scale(0.965,1)" text-anchor="middle">1.5</text>
<g transform="translate(555.1,463.8) rotate(0)"><text class="i" font-size="15.6" x="0" y="0">l</text><text font-size="8.5" x="5.3" y="-6.5">mus</text><text font-size="15.6" x="24.7" y="0">/</text><text class="i" font-size="15.6" x="31.4" y="0">l</text><text font-size="8.5" x="36.7" y="-6.5">mus</text><text font-size="8.5" x="35.5" y="3.7">0</text><circle cx="3.6" cy="-12.6" r="0.85" fill="#1a1a1a"/><circle cx="35.0" cy="-12.6" r="0.85" fill="#1a1a1a"/></g>
<g transform="translate(481.6,371.9) rotate(-90)"><text class="i" font-size="15.6" x="0" y="0">F</text><text font-size="8.5" x="10.3" y="-6.5">mus</text><text font-size="15.6" x="28.7" y="0">/</text><text class="i" font-size="15.6" x="38.2" y="0">F</text><text font-size="8.5" x="50.3" y="-6.5">mus</text><text font-size="8.5" x="46.5" y="3.7">0</text></g>
</g>
</svg>
</body></html>
